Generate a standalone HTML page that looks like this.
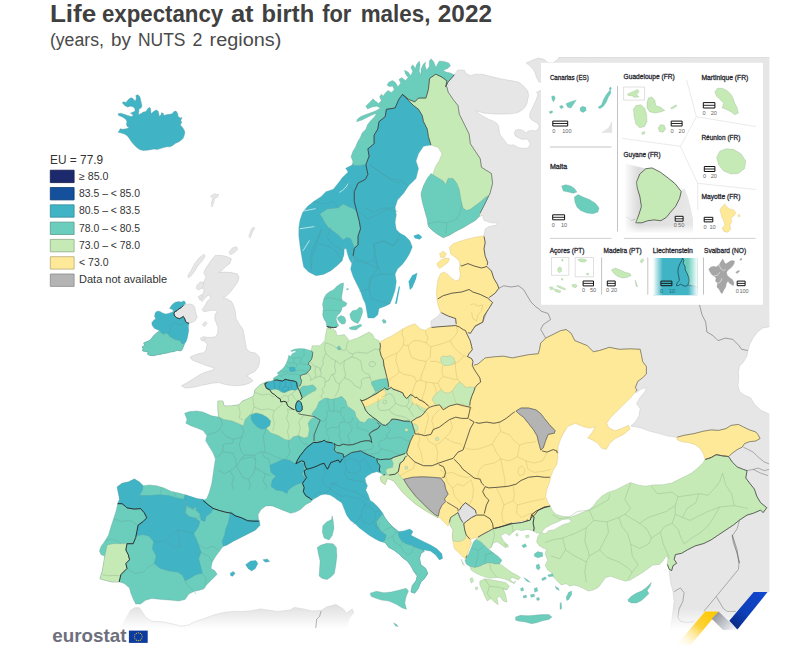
<!DOCTYPE html>
<html><head><meta charset="utf-8"><title>Life expectancy at birth for males, 2022</title>
<style>
html,body{margin:0;padding:0;background:#fff;}
body{width:810px;height:652px;overflow:hidden;position:relative;font-family:"Liberation Sans",sans-serif;color:#404040;}
#map{position:absolute;left:0;top:0;}
.t1{position:absolute;left:47px;top:-2px;font-size:24.5px;font-weight:bold;letter-spacing:-0.85px;white-space:nowrap;color:#3f3f3f;}
.t2{position:absolute;left:47px;top:27px;font-size:20px;letter-spacing:-0.55px;white-space:nowrap;color:#4a4a4a;}
.lg{position:absolute;left:50px;font-size:11.5px;letter-spacing:-0.3px;white-space:nowrap;color:#333;}
.lg i{position:absolute;left:0;top:0;width:23px;height:11.5px;border:0.8px solid #8a8a8a;display:block;}
.lg span{position:absolute;left:29px;top:-0.5px;}
</style></head><body>
<svg id="map" width="810" height="652" viewBox="0 0 810 652" stroke-linejoin="round">
<defs>
<linearGradient id="gna" x1="0" y1="604" x2="0" y2="629" gradientUnits="userSpaceOnUse"><stop offset="0" stop-color="#dedede"/><stop offset="1" stop-color="#ffffff"/></linearGradient>
<linearGradient id="gbot" x1="0" y1="608" x2="0" y2="630" gradientUnits="userSpaceOnUse"><stop offset="0" stop-color="#ffffff" stop-opacity="0"/><stop offset="1" stop-color="#ffffff" stop-opacity="1"/></linearGradient>
<linearGradient id="ggy" x1="0" y1="0" x2="1" y2="0"><stop offset="0" stop-color="#d8d8d8"/><stop offset="1" stop-color="#e8e8e8"/></linearGradient>
<linearGradient id="ggyl" x1="0" y1="0" x2="1" y2="0"><stop offset="0" stop-color="#fff" stop-opacity="1"/><stop offset="1" stop-color="#fff" stop-opacity="0"/></linearGradient>
<linearGradient id="ggyb" x1="0" y1="0" x2="0" y2="1"><stop offset="0" stop-color="#fff" stop-opacity="0"/><stop offset="1" stop-color="#fff" stop-opacity="1"/></linearGradient>
<linearGradient id="gll" x1="0" y1="0" x2="1" y2="0"><stop offset="0" stop-color="#fff" stop-opacity="1"/><stop offset="1" stop-color="#fff" stop-opacity="0"/></linearGradient>
<linearGradient id="glr" x1="0" y1="0" x2="1" y2="0"><stop offset="0" stop-color="#fff" stop-opacity="0"/><stop offset="1" stop-color="#fff" stop-opacity="1"/></linearGradient>
<linearGradient id="rby" x1="712" y1="611" x2="684" y2="645" gradientUnits="userSpaceOnUse"><stop offset="0" stop-color="#fcc900"/><stop offset="0.45" stop-color="#fdd23a"/><stop offset="1" stop-color="#fff6d0" stop-opacity="0.2"/></linearGradient>
<linearGradient id="rbb" x1="760" y1="592" x2="733" y2="626" gradientUnits="userSpaceOnUse"><stop offset="0" stop-color="#1246cc"/><stop offset="0.6" stop-color="#0d3fb8"/><stop offset="1" stop-color="#0a2a85"/></linearGradient>
<linearGradient id="rbg" x1="714" y1="614" x2="732" y2="631" gradientUnits="userSpaceOnUse"><stop offset="0" stop-color="#8f9299"/><stop offset="1" stop-color="#eef0f4"/></linearGradient>
<clipPath id="frame"><rect x="0" y="57" width="769.3" height="600"/></clipPath>
</defs>
<g clip-path="url(#frame)">
<polygon points="228.0,425.0 300.0,395.0 318.0,372.0 330.0,345.0 376.0,345.0 384.0,362.0 460.0,342.0 472.0,370.0 470.0,440.0 520.0,440.0 540.0,470.0 545.0,500.0 520.0,515.0 492.0,522.0 472.0,500.0 445.0,470.0 418.0,455.0 396.0,455.0 380.0,443.0 332.0,445.0 312.0,468.0 303.0,488.0 262.0,494.0 228.0,478.0" fill="#6bcdbc"/>
<polygon points="384.0,362.0 460.0,342.0 472.0,370.0 470.0,440.0 520.0,440.0 540.0,470.0 545.0,500.0 520.0,515.0 492.0,522.0 472.0,500.0 445.0,470.0 418.0,455.0 410.0,440.0 420.0,410.0 400.0,395.0 385.0,385.0" fill="#fee998"/>
<polygon points="520.0,440.0 560.0,400.0 566.0,430.0 556.0,445.0 548.0,470.0 540.0,470.0" fill="#fee998"/>
<polygon points="454.5,75.0 457.7,70.1 464.2,70.1 465.8,73.3 470.6,75.8 474.6,74.2 481.9,74.2 491.5,76.6 501.2,79.0 510.9,80.6 518.9,82.2 523.7,86.2 527.8,91.1 528.6,95.9 527.8,99.0 527.3,102.5 525.8,106.0 523.3,109.0 519.9,111.5 515.9,113.1 510.9,113.7 504.9,113.9 498.9,114.1 492.9,113.9 487.9,113.4 483.0,112.9 479.0,111.5 476.0,111.0 477.5,112.4 481.0,114.9 485.0,117.4 488.9,119.4 492.9,120.9 496.4,122.9 498.4,125.4 498.9,128.9 499.4,132.9 500.9,135.9 503.4,138.9 505.4,141.9 507.4,144.4 510.9,145.3 513.9,144.9 515.9,146.3 518.9,147.8 522.8,148.3 526.8,148.3 528.8,146.8 530.3,143.9 528.8,140.9 526.8,138.9 523.8,139.4 520.8,138.9 517.9,137.4 515.4,135.9 514.4,133.4 515.4,130.4 517.9,129.4 521.8,129.9 524.3,131.4 525.8,132.9 528.8,130.9 532.3,130.4 535.8,130.9 537.8,129.4 539.3,126.4 538.3,123.9 535.3,121.9 531.8,119.9 529.8,117.4 529.8,113.9 531.3,110.0 533.3,106.0 535.3,102.0 536.8,98.0 537.8,95.0 537.7,93.5 536.6,92.2 541.0,90.3 546.3,90.3 546.3,82.2 540.6,82.2 538.6,81.4 536.6,77.4 535.0,72.5 532.6,68.5 529.4,65.3 526.2,62.9 531.8,60.5 538.2,58.1 543.9,59.3 547.9,62.6 552.7,62.9 557.6,59.7 559.2,57.1 770.0,57.0 770.2,326.6 762.9,327.9 758.0,331.5 753.1,337.7 749.4,345.0 748.2,349.9 746.9,356.1 743.3,362.2 739.6,365.9 738.3,372.0 738.8,378.2 737.9,385.5 739.6,391.7 744.5,395.3 750.6,397.8 754.3,403.9 760.4,410.1 770.2,414.5 770.0,640.0 670.5,638.5 670.5,628.6 671.7,621.2 673.0,611.4 674.2,601.5 673.0,591.6 670.5,581.7 669.3,570.6 669.3,557.0 684.1,549.6 708.8,444.7 676.7,437.3 668.0,436.0 659.4,433.6 649.5,431.1 639.6,427.4 631.0,426.2 631.6,425.3 635.3,422.1 639.0,415.9 640.2,408.5 636.5,403.6 640.2,397.4 645.2,391.2 646.4,387.5 641.5,388.8 636.5,392.5 467.9,365.3 465.4,359.1 461.7,355.4 466.7,350.5 465.4,343.1 461.7,336.9 460.5,330.7 484.0,235.2 485.2,229.0 488.9,226.5 496.3,225.3 497.5,222.8 491.4,222.8 484.0,220.4 482.7,215.4 479.0,216.7 446.9,87.0" fill="#e6e6e6" stroke="#c8c8c8" stroke-width="0.5"/>
<polygon points="119.6,628.6 129.5,611.4 134.4,607.7 139.4,607.7 141.9,611.4 145.6,617.5 151.7,621.2 161.6,621.7 171.5,623.7 181.4,626.2 188.8,624.9 196.2,621.2 203.6,618.8 213.5,615.1 223.3,612.6 233.2,611.4 243.1,611.4 250.5,610.9 260.4,608.9 267.8,610.1 277.7,611.4 290.0,610.1 294.4,607.4 303.3,608.9 312.2,611.0 321.1,610.4 327.0,606.8 335.9,604.4 343.3,608.9 346.3,613.3 352.2,608.9 353.7,613.3 349.3,619.3 346.3,631.1 119.0,632.0" fill="url(#gna)"/>
<polyline points="129.5,611.4 134.4,607.7 139.4,607.7 141.9,611.4 145.6,617.5 151.7,621.2 161.6,621.7 171.5,623.7 181.4,626.2 188.8,624.9 196.2,621.2 203.6,618.8 213.5,615.1 223.3,612.6 233.2,611.4 243.1,611.4 250.5,610.9 260.4,608.9 267.8,610.1 277.7,611.4 290.0,610.1 294.4,607.4 303.3,608.9 312.2,611.0 321.1,610.4 327.0,606.8 335.9,604.4 343.3,608.9 346.3,613.3 352.2,608.9 353.7,613.3" fill="none" stroke="#d0d0d0" stroke-width="0.5"/>
<polyline points="498.8,288.3 503.7,285.8 511.1,287.0 518.5,285.8 523.5,289.5 527.2,295.7 530.9,301.9 535.8,306.8 539.5,309.3 540.7,311.0 548.1,313.5 550.6,319.6 543.2,324.6 540.7,329.5 545.7,338.1" fill="none" stroke="#6a6a6a" stroke-width="0.6"/>
<polyline points="699.5,304.8 702.0,314.7 705.7,322.1 706.9,332.0 713.1,335.7 718.0,340.6 725.4,338.1 732.8,339.4 739.0,345.6 741.5,349.3 747.7,350.5" fill="none" stroke="#6a6a6a" stroke-width="0.6"/>
<polyline points="743.3,447.2 748.3,449.6 753.2,452.1 758.1,457.0 764.3,462.0 769.3,464.0" fill="none" stroke="#6a6a6a" stroke-width="0.5"/>
<polyline points="747.0,470.6 753.2,469.4 758.1,468.1 764.3,470.6 769.3,469.4" fill="none" stroke="#6a6a6a" stroke-width="0.5"/>
<polyline points="753.2,469.4 760.6,473.1 768.0,475.6" fill="none" stroke="#6a6a6a" stroke-width="0.5"/>
<polyline points="739.6,520.0 737.2,528.6 732.2,536.0 733.5,543.5 737.2,553.3 739.6,563.2 732.2,534.8 737.2,549.6 738.9,564.4 738.4,569.4 716.2,596.5 703.8,611.4" fill="none" stroke="#6a6a6a" stroke-width="0.5"/>
<polyline points="716.2,596.5 723.6,608.9 727.3,611.4 735.9,611.4" fill="none" stroke="#6a6a6a" stroke-width="0.5"/>
<polyline points="674.2,591.6 680.4,587.9 684.1,592.8 682.8,601.5 679.1,608.9 677.9,617.5 680.4,621.2 686.5,622.5 694.0,621.7" fill="none" stroke="#6a6a6a" stroke-width="0.5"/>
<polyline points="321.1,611.0 319.6,616.3 316.7,619.3 315.8,628.1" fill="none" stroke="#6a6a6a" stroke-width="0.5"/>
<polyline points="466.2,330.7 474.1,327.0 482.7,322.1 485.2,315.9 487.7,308.5" fill="none" stroke="#6a6a6a" stroke-width="0.5"/>
<polygon points="210.7,261.1 215.3,255.4 221.0,255.4 226.8,256.5 231.4,258.8 229.8,263.4 225.1,266.9 222.2,270.3 218.7,272.6 224.5,272.1 231.4,272.6 237.1,273.8 239.0,277.2 237.1,283.0 233.7,287.6 230.2,292.2 226.8,295.6 223.3,297.9 227.4,299.1 231.4,301.4 233.7,306.0 235.3,311.7 236.0,318.6 239.4,324.4 242.9,329.0 244.0,334.7 245.2,341.6 246.3,348.5 249.8,352.0 255.5,353.1 259.0,356.6 259.7,361.2 258.3,366.9 255.1,371.1 250.9,373.4 246.8,376.1 250.9,378.4 253.2,380.7 249.8,383.0 244.0,384.9 237.1,385.8 230.2,385.3 224.5,384.2 218.7,382.6 213.0,383.0 207.2,384.2 201.5,385.3 196.9,386.5 191.1,387.6 185.4,388.1 181.4,385.8 186.5,383.0 192.3,379.6 196.9,376.6 201.5,373.8 207.2,371.5 211.8,370.4 214.6,368.1 209.5,366.5 203.8,364.6 198.0,362.3 192.3,360.0 190.0,357.3 194.6,355.0 199.2,353.6 203.8,352.7 206.1,349.7 207.2,343.9 204.4,341.2 200.8,339.3 203.8,337.0 209.5,337.5 215.3,337.0 217.6,333.6 218.2,327.8 216.4,323.2 214.6,318.6 215.3,314.0 217.6,311.3 214.1,309.9 209.5,310.6 203.8,311.7 202.1,309.4 204.9,306.0 207.2,301.4 210.7,297.9 209.5,294.5 206.1,296.8 202.1,301.4 199.8,299.1 202.6,294.5 204.4,289.9 201.5,287.6 200.3,284.1 203.8,281.8 206.1,277.2 203.8,272.6 206.1,268.0 208.4,264.6" fill="#e6e6e6" stroke="#c4c4c4" stroke-width="0.5"/>
<polygon points="187.7,276.1 191.1,270.3 194.6,263.4 199.2,257.7 203.8,254.2 205.4,256.0 202.1,261.1 198.0,265.7 194.6,271.5 191.1,276.1 188.3,277.7" fill="#e6e6e6" stroke="#c4c4c4" stroke-width="0.4"/>
<polygon points="196.9,285.3 200.3,281.8 203.8,283.0 202.6,287.6 199.2,289.9 196.2,288.7" fill="#e6e6e6" stroke="#c4c4c4" stroke-width="0.4"/>
<polygon points="198.0,296.8 201.5,294.5 202.6,297.4 199.8,299.8" fill="#e6e6e6" stroke="#c4c4c4" stroke-width="0.4"/>
<polygon points="229.1,251.9 232.5,247.8 236.7,246.8 237.6,249.6 233.7,253.1 230.2,254.7" fill="#e6e6e6" stroke="#c4c4c4" stroke-width="0.4"/>
<polygon points="202.1,324.4 205.4,321.6 207.2,323.2 204.4,326.7" fill="#e6e6e6" stroke="#c4c4c4" stroke-width="0.4"/>
<polygon points="200.3,338.2 203.8,336.6 205.4,338.9 202.1,341.2" fill="#e6e6e6" stroke="#c4c4c4" stroke-width="0.4"/>
<polygon points="248.9,236.2 251.4,228.8 253.8,227.0 254.8,228.3 252.3,232.5 250.1,238.1" fill="#e6e6e6" stroke="#c4c4c4" stroke-width="0.4"/>
<polygon points="210.4,196.2 214.3,193.7 218.8,194.7 217.3,197.2 214.8,198.6 213.6,202.8 211.9,207.0 211.4,202.8 212.8,198.6" fill="#e6e6e6" stroke="#c4c4c4" stroke-width="0.4"/>
<polygon points="183.3,305.5 186.1,304.4 189.6,304.0 193.0,304.9 194.8,307.2 195.3,311.3 196.5,314.7 197.1,317.6 195.3,320.5 192.5,322.2 189.0,323.3 187.3,322.8 185.6,321.6 184.7,318.7 183.3,316.4 181.6,317.6 179.3,318.7 176.4,317.6 174.7,315.9 173.9,313.6 174.7,311.8 177.0,310.7 178.7,309.0 181.0,307.8" fill="#e6e6e6" stroke="#c4c4c4" stroke-width="0.5"/>
<polygon points="430.9,321.0 438.3,316.0 440.7,312.3 448.1,316.0 455.6,318.5 458.0,328.4 448.1,328.9 438.3,329.4 430.9,327.2" fill="#e6e6e6" stroke="#c4c4c4" stroke-width="0.4"/>
<polygon points="118.0,113.8 120.7,113.2 124.0,114.3 127.7,115.4 130.9,116.4 133.1,116.1 132.5,114.3 130.4,113.2 133.1,112.1 135.2,111.1 134.7,108.4 133.1,106.8 130.4,106.2 127.7,107.1 125.0,105.7 122.3,103.0 123.4,101.7 126.1,102.5 127.7,100.3 129.9,98.2 132.0,97.7 134.1,99.8 135.2,101.4 136.3,98.2 135.8,95.5 137.9,94.7 139.8,96.6 140.6,99.8 141.3,103.0 142.0,105.7 141.1,107.9 139.0,108.9 138.8,112.1 138.4,114.8 140.6,113.8 143.3,112.1 146.0,111.6 147.6,108.9 149.2,107.3 150.6,108.4 150.8,111.6 151.3,113.8 153.5,111.6 156.1,110.0 158.1,111.1 158.8,113.8 159.4,116.4 161.0,114.8 161.5,112.7 163.1,113.2 164.2,115.4 166.9,114.6 169.6,114.3 172.2,113.8 173.9,111.6 176.0,111.1 177.6,113.2 178.1,116.4 180.3,118.0 182.1,117.5 180.8,120.2 181.7,122.3 180.3,125.0 182.4,127.2 184.1,129.9 184.9,132.5 184.1,135.8 183.0,138.4 180.8,140.6 178.1,142.2 175.5,143.3 172.8,145.4 170.1,146.8 166.9,146.8 163.7,147.6 160.4,148.6 157.2,149.4 154.0,149.0 150.8,149.7 147.0,150.2 143.3,150.5 140.0,149.7 137.4,148.1 135.2,146.0 133.1,143.8 130.9,141.1 129.3,138.4 127.2,135.8 124.5,134.1 121.3,133.1 118.0,132.2 119.4,130.4 120.2,128.8 122.9,129.3 126.1,128.8 129.3,127.7 127.2,126.6 126.3,124.5 127.0,121.8 126.1,119.7 124.0,118.0 121.3,116.4 118.6,115.4" fill="#40b4c4" stroke="#5a9aa5" stroke-width="0.4"/>
<polygon points="454.2,74.9 450.5,73.0 445.9,72.1 443.1,70.3 447.7,68.4 450.5,65.7 448.7,62.9 444.1,61.4 439.4,61.0 437.6,63.8 435.8,67.5 433.9,62.0 431.2,58.8 429.3,61.0 429.3,66.6 426.6,70.3 425.1,65.7 425.6,62.0 422.9,64.7 421.0,69.3 421.0,74.9 419.2,71.2 420.1,64.7 419.2,61.0 416.4,64.7 415.5,68.4 412.7,64.7 410.9,67.5 412.7,71.2 410.9,75.8 408.1,72.1 404.5,70.3 405.4,73.9 408.1,77.6 405.4,80.4 401.7,77.6 398.9,79.5 400.8,83.1 398.0,86.8 395.2,82.2 392.5,80.4 388.8,82.2 387.0,85.0 389.7,86.8 392.5,85.9 394.3,89.6 391.6,92.4 387.9,90.5 385.1,93.3 383.3,96.0 381.4,94.2 379.6,97.0 381.4,100.6 378.7,103.4 375.9,101.6 373.1,98.8 369.5,102.5 365.8,106.2 367.6,108.9 372.2,107.1 376.8,106.2 380.5,108.0 375.9,110.8 371.3,112.6 365.8,114.5 361.2,116.3 357.5,119.1 356.6,121.8 362.1,120.0 367.6,117.2 373.1,114.5 376.8,113.5 374.1,117.2 370.4,120.9 367.6,124.6 365.8,129.2 362.1,132.9 360.3,137.5 357.5,142.1 355.7,146.7 352.9,151.3 351.0,156.8 352.9,161.4 352.0,165.1 358.0,165.6 365.4,164.8 369.1,156.2 367.9,148.8 374.1,143.8 374.1,135.2 377.8,129.0 379.0,121.6 385.2,116.7 386.4,109.3 395.1,108.0 398.8,99.4 402.5,94.4 408.6,99.4 414.8,101.9 418.5,98.1 425.9,98.1 428.4,89.5 429.6,78.4 435.8,74.2 442.0,77.2 446.9,80.9 445.7,87.0 448.1,82.1" fill="#6bcdbc" stroke="#6a9a95" stroke-width="0.3"/>
<polygon points="352.0,165.1 345.7,168.3 348.1,172.0 342.0,178.1 338.3,183.1 333.3,189.3 325.9,191.7 321.0,196.7 313.6,201.6 307.4,206.5 302.5,212.7 300.0,220.1 298.8,227.5 298.8,236.2 300.0,246.0 301.2,253.5 302.5,260.9 303.7,267.0 308.6,272.0 316.0,275.7 323.5,274.4 330.9,270.7 337.0,265.8 342.0,260.9 344.0,254.7 344.2,249.0 346.2,248.5 347.4,253.5 349.4,259.6 351.9,263.3 353.1,255.9 354.3,248.5 358.0,244.8 358.0,236.2 360.5,228.8 359.3,221.4 356.8,211.5 354.3,201.6 354.3,191.7 358.0,183.1 365.4,179.4 367.9,174.4 365.9,164.6 365.4,164.8 358.0,165.6" fill="#40b4c4" stroke="#5a9aa5" stroke-width="0.3"/>
<polygon points="351.9,263.3 350.6,269.1 353.1,276.5 356.8,284.0 360.5,291.4 363.0,298.8 365.4,303.7 366.7,311.1 367.9,318.0 374.1,318.0 377.8,314.8 379.0,308.6 385.2,306.2 390.1,303.7 392.6,297.5 395.1,290.1 396.3,281.5 395.1,274.1 397.5,269.1 402.5,264.2 406.2,259.3 409.9,253.1 412.3,246.9 409.9,240.7 404.9,235.8 400.0,233.3 396.3,229.6 395.1,222.2 396.3,214.8 395.1,207.4 397.5,200.0 403.7,193.2 408.6,185.8 416.0,178.4 418.5,168.5 416.0,161.1 418.5,153.7 423.5,146.3 430.9,145.1 428.4,136.4 427.2,129.0 423.5,121.6 422.2,115.4 418.5,109.3 413.6,105.6 408.6,100.6 402.5,94.4 402.5,94.4 398.8,99.4 395.1,108.0 386.4,109.3 385.2,116.7 379.0,121.6 377.8,129.0 374.1,135.2 374.1,143.8 367.9,148.8 369.1,156.2 365.9,164.6 367.9,174.4 365.4,179.4 358.0,183.1 354.3,191.7 354.3,201.6 356.8,211.5 359.3,221.4 360.5,228.8 358.0,236.2 358.0,244.8 354.3,248.5 353.1,255.9" fill="#40b4c4" stroke="#5a9aa5" stroke-width="0.3"/>
<polygon points="430.9,145.1 438.3,147.5 442.0,153.7 439.5,159.9 435.8,166.0 432.1,175.9 428.4,177.2 423.5,185.8 421.0,195.7 423.5,203.1 424.7,210.5 427.2,219.1 428.4,226.5 432.1,230.2 437.0,234.0 443.2,237.7 449.4,235.2 455.6,231.5 463.0,227.8 469.1,224.1 475.3,220.4 479.0,216.7 480.2,213.0 484.0,205.6 487.7,198.1 490.1,193.2 492.6,183.3 491.4,173.5 481.5,167.3 480.2,158.6 475.3,151.2 470.4,143.8 469.1,134.0 463.0,121.6 459.3,114.2 458.0,105.6 453.1,99.4 448.1,92.0 446.9,87.0 445.7,87.0 446.9,80.9 442.0,77.2 435.8,74.2 429.6,78.4 428.4,89.5 425.9,98.1 418.5,98.1 414.8,101.9 408.6,99.4 402.5,94.4 402.5,94.4 408.6,100.6 413.6,105.6 418.5,109.3 422.2,115.4 423.5,121.6 427.2,129.0 428.4,136.4" fill="#c6eab5" stroke="#8fae88" stroke-width="0.3"/>
<polygon points="169.5,308.4 171.8,304.9 174.7,302.4 178.1,301.5 181.6,302.1 183.3,300.9 185.0,301.5 185.6,303.8 183.3,305.5 181.0,307.8 178.7,309.0 177.0,310.7 174.7,311.8 173.9,313.6 174.7,315.9 176.4,317.6 179.3,318.7 181.6,317.6 183.3,316.4 184.7,318.7 185.6,321.6 187.3,322.8 189.0,323.3 188.4,326.8 188.8,330.2 188.1,334.3 187.3,338.3 186.1,341.7 184.4,344.0 183.3,346.9 182.1,349.8 180.4,350.9 177.5,350.3 174.1,351.5 170.6,352.1 167.2,353.0 163.7,353.4 160.3,354.4 156.8,354.9 153.4,355.7 149.9,355.5 147.4,354.1 148.2,352.1 145.3,351.5 142.5,350.9 143.0,348.6 142.1,346.9 144.8,345.2 143.6,343.1 146.5,341.7 149.4,340.6 151.7,338.3 153.4,336.0 155.7,333.7 158.0,332.0 159.7,330.8 157.4,329.7 154.5,328.5 152.2,325.6 151.7,322.8 153.4,320.5 155.7,318.7 154.5,316.4 155.1,313.0 156.8,311.3 159.7,311.3 162.6,313.0 165.5,314.1 168.3,313.6 171.2,312.4 173.5,311.3 172.4,309.5" fill="#40b4c4" stroke="#5a9aa5" stroke-width="0.3"/>
<polygon points="319.8,214.0 327.2,209.0 338.3,207.8 343.2,204.1 348.1,206.5 354.3,209.0 356.8,212.7 359.3,221.4 360.5,228.8 358.0,236.2 358.0,244.8 354.3,247.3 350.6,238.6 346.9,237.4 343.2,239.9 338.3,234.9 333.3,231.2 328.4,227.5 324.7,222.6 322.2,217.7" fill="#6bcdbc" stroke="#6a9a95" stroke-width="0.3"/>
<polygon points="395.1,303.7 398.8,286.4 400.0,286.4 396.8,303.7" fill="#40b4c4"/>
<polygon points="408.6,281.5 412.3,275.3 417.3,272.8 416.0,279.0 412.3,287.7 409.9,290.1" fill="#40b4c4"/>
<polygon points="430.9,173.5 437.0,177.2 443.2,180.9 445.7,184.6 448.1,178.4 453.1,178.4 456.8,183.3 459.3,189.5 460.5,196.9 461.7,203.1 463.0,208.0 466.7,210.5 470.4,209.3 475.3,205.6 480.2,201.9 485.2,197.4 488.4,195.7 487.7,198.1 484.0,205.6 480.2,213.0 479.0,216.7 475.3,220.4 469.1,224.1 463.0,227.8 455.6,231.5 449.4,235.2 443.2,237.7 437.0,234.0 432.1,230.2 428.4,226.5 427.2,219.1 424.7,210.5 422.2,201.9 421.0,193.2 423.5,185.8 427.2,178.4" fill="#6bcdbc" stroke="#6a9a95" stroke-width="0.3"/>
<polygon points="413.6,235.8 418.5,234.1 422.2,237.0 419.8,239.5 414.8,238.3" fill="#40b4c4"/>
<polygon points="159.7,330.8 161.4,333.1 163.7,334.3 166.0,333.1 168.3,334.3 169.5,336.6 171.8,337.7 174.7,339.4 177.5,340.0 180.4,341.1 181.6,343.4 183.3,344.0 184.4,344.0 183.3,346.9 182.1,349.8 180.4,350.9 177.5,350.3 174.1,351.5 170.6,352.1 167.2,353.0 163.7,353.4 160.3,354.4 156.8,354.9 153.4,355.7 149.9,355.5 147.4,354.1 148.2,352.1 145.3,351.5 142.5,350.9 143.0,348.6 142.1,346.9 144.8,345.2 143.6,343.1 146.5,341.7 149.4,340.6 151.7,338.3 153.4,336.0 155.7,333.7 158.0,332.0" fill="#6bcdbc" stroke="#6a9a95" stroke-width="0.3"/>
<polyline points="339.3,192.4 342.4,190.5 346.1,186.9 348.1,183.5" fill="none" stroke="#e8f6f8" stroke-width="0.7"/>
<polyline points="299.6,228.8 306.6,227.7 314.3,226.6" fill="none" stroke="#e8f6f8" stroke-width="0.7"/>
<polyline points="302.9,250.9 306.6,245.0 309.5,240.4" fill="none" stroke="#e8f6f8" stroke-width="0.7"/>
<polyline points="304.3,210.9 310.2,209.7 315.7,208.6" fill="none" stroke="#e8f6f8" stroke-width="0.7"/>
<polyline points="168.3,334.3 169.5,331.4 170.6,327.9 171.8,324.5 174.1,322.8 176.4,323.3 179.3,325.1 182.1,324.5 184.7,323.3 187.3,322.8" fill="none" stroke="#4f98a4" stroke-width="0.4"/>
<polyline points="369.1,164.8 379.0,171.0 388.9,178.4 398.8,179.6 408.6,185.8" fill="none" stroke="#4f98a4" stroke-width="0.4"/>
<polyline points="370.4,164.6 380.2,172.0 390.1,179.4 400.0,183.1" fill="none" stroke="#4f98a4" stroke-width="0.4"/>
<polyline points="358.0,211.5 367.9,218.9 377.8,214.0 387.7,209.0 397.5,211.5" fill="none" stroke="#4f98a4" stroke-width="0.4"/>
<polyline points="374.1,243.6 382.7,241.1 392.6,246.0 400.0,238.6" fill="none" stroke="#4f98a4" stroke-width="0.4"/>
<polyline points="374.1,243.6 375.3,253.5 377.8,268.3 370.4,278.1 367.9,288.0" fill="none" stroke="#4f98a4" stroke-width="0.4"/>
<polyline points="355.6,260.9 363.0,260.9 370.4,264.6 377.8,268.3" fill="none" stroke="#4f98a4" stroke-width="0.4"/>
<polyline points="321.0,228.8 318.5,236.2 316.0,246.0 312.3,255.9 311.1,268.3" fill="none" stroke="#4f98a4" stroke-width="0.4"/>
<polyline points="318.5,243.6 328.4,246.0 335.8,251.0 342.0,260.9" fill="none" stroke="#4f98a4" stroke-width="0.4"/>
<polyline points="313.6,201.6 323.5,204.1 333.3,201.6 338.3,207.8" fill="none" stroke="#4f98a4" stroke-width="0.4"/>
<polyline points="342.0,178.1 348.1,184.3 354.3,191.7" fill="none" stroke="#4f98a4" stroke-width="0.4"/>
<polyline points="364.2,207.4 374.1,212.3 381.5,208.6 395.1,207.4" fill="none" stroke="#4f98a4" stroke-width="0.4"/>
<polyline points="374.1,244.4 384.0,240.7 393.8,245.7 400.0,233.3" fill="none" stroke="#4f98a4" stroke-width="0.4"/>
<polyline points="374.1,244.4 374.1,259.3 364.2,264.2 353.1,255.6" fill="none" stroke="#4f98a4" stroke-width="0.4"/>
<polyline points="374.1,259.3 381.5,274.1 393.8,274.1" fill="none" stroke="#4f98a4" stroke-width="0.4"/>
<polyline points="371.6,276.5 381.5,274.1" fill="none" stroke="#4f98a4" stroke-width="0.4"/>
<polyline points="371.6,276.5 369.1,288.9 371.6,298.8 379.0,301.2 390.1,303.7" fill="none" stroke="#4f98a4" stroke-width="0.4"/>
<polyline points="359.3,291.4 369.1,288.9" fill="none" stroke="#4f98a4" stroke-width="0.4"/>
<polyline points="322.2,229.6 317.3,239.5 312.3,249.4 309.9,261.7 312.3,271.6" fill="none" stroke="#4f98a4" stroke-width="0.4"/>
<polyline points="330.9,227.2 327.2,237.0 332.1,244.4 340.7,249.4 344.0,250.6" fill="none" stroke="#4f98a4" stroke-width="0.4"/>
<polyline points="427.2,224.1 437.0,221.6 446.9,222.8 456.8,219.1 460.5,211.7 461.7,203.1" fill="none" stroke="#62a89b" stroke-width="0.4"/>
<polyline points="446.9,222.8 445.7,234.0" fill="none" stroke="#62a89b" stroke-width="0.4"/>
<polygon points="117.2,486.9 122.1,483.2 128.3,482.0 134.4,479.0 139.4,482.0 143.1,485.7 149.3,484.9 156.7,485.7 164.1,488.1 171.5,491.4 178.9,493.1 185.1,494.8 191.2,496.8 197.4,498.8 202.3,499.3 204.1,500.0 208.5,504.7 213.5,507.9 219.6,510.4 225.8,512.1 230.7,511.6 235.7,515.3 241.9,517.8 248.0,520.2 254.2,520.2 259.1,520.2 259.9,525.2 255.4,530.1 248.0,533.8 240.6,537.5 233.2,541.2 227.0,544.9 223.3,546.2 219.6,551.1 215.9,556.0 212.2,562.2 211.0,568.4 214.7,570.6 217.2,574.3 214.7,576.8 211.0,580.5 206.0,585.4 203.6,589.1 198.6,590.4 193.7,591.6 188.8,594.1 185.1,599.5 178.9,601.0 171.5,600.2 161.6,599.5 151.7,598.5 145.6,600.2 140.6,604.0 135.7,604.0 133.2,599.0 130.7,592.8 129.5,587.9 124.6,583.7 119.1,581.7 120.9,574.6 127.0,568.4 125.8,563.5 129.5,559.8 128.3,554.8 125.8,549.9 127.0,543.7 133.2,543.7 135.7,537.5 136.9,531.4 138.1,525.2 143.1,521.5 146.8,517.8 144.3,512.8 140.6,508.6 134.4,509.1 127.0,507.9 125.8,506.7 122.1,503.7 117.7,503.7 119.6,499.3 118.4,493.1" fill="#6bcdbc" stroke="#6a9a95" stroke-width="0.3"/>
<polygon points="264.8,382.5 259.9,384.9 254.9,389.9 253.7,396.0 248.8,398.5 242.6,401.0 238.9,404.7 231.5,405.9 224.1,405.9 222.8,401.0 217.9,401.0 217.9,409.6 218.6,417.0 211.7,415.8 203.1,412.1 196.9,410.9 189.5,411.6 184.6,413.3 187.0,419.5 185.8,423.2 190.7,425.7 196.9,428.1 203.1,430.6 206.8,435.6 205.6,440.5 209.3,446.7 213.0,452.8 215.4,459.0 214.2,466.4 213.0,475.1 211.7,483.7 209.3,492.3 206.8,498.5 203.1,500.5 208.0,504.7 213.0,508.4 219.1,510.4 225.3,512.1 231.5,513.3 235.2,515.8 241.4,517.8 247.5,520.7 253.7,521.2 258.6,521.2 258.1,514.6 261.1,509.6 266.0,505.9 272.2,505.9 278.4,508.4 284.6,510.9 290.7,513.3 295.7,512.1 300.6,509.6 305.6,504.7 310.5,502.2 313.0,499.8 311.7,494.8 308.0,492.3 304.3,488.6 303.1,482.5 305.6,477.5 301.9,475.1 304.3,468.9 303.1,464.0 308.0,462.7 308.0,454.1 310.5,449.1 317.9,441.7 322.8,433.1 325.3,424.4 326.5,417.0 317.9,412.1 310.5,407.2 305.6,404.7 298.1,402.2 294.4,397.3 289.5,394.8 284.6,389.9 278.4,387.4 273.5,383.7 268.5,381.2" fill="#6bcdbc" stroke="#6a9a95" stroke-width="0.3"/>
<polygon points="322.8,525.7 326.5,522.0 331.5,519.5 332.2,515.8 333.2,520.7 334.0,528.1 332.2,535.6 329.0,540.0 324.1,538.0 322.3,531.9" fill="#6bcdbc" stroke="#6a9a95" stroke-width="0.3"/>
<polygon points="117.7,503.7 115.9,511.6 113.5,519.0 111.0,526.4 108.5,535.1 104.8,541.2 101.1,546.2 99.4,551.1 101.1,554.8 104.8,556.0 103.6,563.5 102.3,570.9 100.4,577.0 99.9,578.8 104.8,580.2 112.2,582.0 119.1,582.0 120.9,574.6 127.0,568.4 125.8,563.5 129.5,559.8 128.3,554.8 125.8,549.9 127.0,543.7 133.2,543.7 135.7,537.5 136.9,531.4 138.1,525.2 143.1,521.5 146.8,517.8 144.3,512.8 140.6,508.6 134.4,509.1 127.0,507.9 125.8,506.7 122.1,503.7 117.7,503.7" fill="#6bcdbc" stroke="#6a9a95" stroke-width="0.3"/>
<polygon points="264.8,382.5 259.9,384.9 254.9,389.9 253.7,396.0 248.8,398.5 242.6,401.0 238.9,404.7 231.5,405.9 224.1,405.9 222.8,401.0 217.9,401.0 217.9,409.6 218.6,417.0 224.1,419.5 231.5,420.7 237.7,423.2 243.3,425.7 245.1,419.5 250.0,414.6 256.2,412.8 262.3,414.6 267.3,418.3 268.0,423.2 266.0,428.1 271.0,433.1 278.4,435.6 284.6,439.3 289.5,440.5 293.2,436.8 298.1,435.6 304.3,438.0 308.0,436.8 309.3,429.4 308.0,423.2 310.5,419.5 314.2,417.0 317.9,412.1 310.5,407.2 305.6,404.7 298.1,402.2 294.4,397.3 289.5,394.8 284.6,389.9 278.4,387.4 273.5,383.7 268.5,381.2" fill="#c6eab5" stroke="#8aa890" stroke-width="0.3"/>
<polygon points="117.2,486.9 122.1,483.2 128.3,482.0 134.4,479.0 139.4,482.0 143.1,485.7 142.3,490.6 139.4,495.6 142.3,501.7 140.6,508.6 134.4,509.1 127.0,507.9 125.8,506.7 122.1,503.7 117.7,503.7 119.6,499.3 118.4,493.1" fill="#40b4c4" stroke="#5a9aa5" stroke-width="0.3"/>
<polygon points="140.6,508.6 144.3,512.8 146.8,517.8 143.1,521.5 138.1,525.2 136.9,531.4 136.4,535.8 143.1,534.6 149.3,536.3 153.7,541.7 152.2,548.6 156.2,556.0 154.2,563.5 160.4,568.4 169.0,570.9 177.7,572.1 182.6,575.3 185.1,580.7 190.0,578.3 196.2,574.6 202.3,573.3 200.6,565.9 198.6,558.5 201.1,552.3 198.6,544.9 196.2,538.8 193.7,533.8 198.6,526.4 199.9,521.5 194.9,517.8 188.8,516.5 185.1,512.8 186.3,506.7 185.1,501.7 188.8,498.0 185.1,494.8 183.8,499.3 176.4,498.0 169.0,495.6 159.1,494.8 149.3,495.6 139.4,495.6 142.3,501.7" fill="#40b4c4" stroke="#5a9aa5" stroke-width="0.3"/>
<polygon points="230.7,511.6 235.7,515.3 241.9,517.8 248.0,520.2 254.2,520.2 259.1,520.2 259.9,525.2 255.4,530.1 248.0,533.8 240.6,537.5 233.2,541.2 227.0,544.9 223.3,546.2 222.1,541.2 224.6,535.1 225.8,528.9 228.3,522.7 229.5,516.5" fill="#40b4c4" stroke="#5a9aa5" stroke-width="0.3"/>
<polygon points="245.6,564.7 250.5,561.0 255.9,560.5 257.9,563.5 255.4,568.4 251.7,570.9 248.0,568.4" fill="#40b4c4" stroke="#5a9aa5" stroke-width="0.3"/>
<polygon points="262.8,559.8 267.3,559.0 269.8,561.5 265.3,562.2" fill="#40b4c4" stroke="#5a9aa5" stroke-width="0.3"/>
<polygon points="230.2,573.3 233.2,571.4 235.2,573.3 232.7,576.3 230.7,575.8" fill="#40b4c4" stroke="#5a9aa5" stroke-width="0.3"/>
<polygon points="107.3,544.9 113.5,543.7 120.9,543.7 127.0,543.7 125.8,549.9 128.3,554.8 129.5,559.8 125.8,563.5 127.0,568.4 120.9,574.6 119.1,582.0 112.2,582.0 104.8,580.2 99.9,578.8 102.3,570.9 103.6,563.5 104.8,556.0 106.0,551.1" fill="#c6eab5" stroke="#8aa890" stroke-width="0.3"/>
<polygon points="251.3,415.4 255.9,413.5 261.5,414.4 267.0,417.2 270.7,420.9 269.8,425.6 266.1,428.3 261.5,429.3 256.9,426.5 253.1,422.8 251.3,419.1" fill="#40b4c4" stroke="#5a9aa5" stroke-width="0.3"/>
<polygon points="269.8,465.2 275.9,462.7 283.3,459.0 289.5,460.2 295.7,464.0 298.1,462.7 303.1,462.7 304.3,468.9 301.9,475.1 305.6,477.5 303.1,482.5 298.1,483.7 293.2,486.2 288.3,489.9 287.0,493.6 282.1,491.1 275.9,489.9 271.0,486.2 272.2,480.0 275.9,476.3 271.0,472.6" fill="#40b4c4" stroke="#5a9aa5" stroke-width="0.3"/>
<polygon points="185.1,494.8 191.2,496.8 197.4,498.8 202.3,499.3 199.9,503.0 196.2,506.7 192.5,509.1 188.8,506.7 186.3,505.4 185.8,500.5" fill="#40b4c4" stroke="#5a9aa5" stroke-width="0.3"/>
<polygon points="202.3,499.3 204.1,500.0 208.5,504.7 213.5,507.9 211.0,512.8 206.0,516.5 204.8,521.5 201.1,520.2 199.9,514.1 196.2,510.4 196.2,506.7 199.9,503.0" fill="#40b4c4" stroke="#5a9aa5" stroke-width="0.3"/>
<polygon points="185.8,509.1 188.8,507.2 192.5,509.1 196.2,510.4 199.9,514.1 198.6,517.8 193.7,517.8 188.8,516.0 185.8,512.8" fill="#6bcdbc" stroke="#6a9a95" stroke-width="0.3"/>
<polyline points="102.3,574.6 108.5,575.8 114.7,575.3 119.6,575.8" fill="none" stroke="#8aa890" stroke-width="0.4"/>
<polyline points="164.1,541.2 170.2,536.3 177.7,530.1 178.9,537.5 180.1,546.2 174.0,548.1 170.2,544.9 166.5,542.5" fill="none" stroke="#5a9aa5" stroke-width="0.4"/>
<polygon points="311.7,500.0 310.0,498.3 305.8,495.8 303.3,491.7 304.2,487.5 302.5,483.3 304.2,480.8 306.7,477.5 305.0,475.0 304.2,470.8 306.7,469.2 309.2,466.7 317.5,464.2 324.2,461.7 327.5,467.5 330.8,460.8 338.3,458.3 343.7,455.8 347.5,454.2 356.7,450.3 363.3,451.3 372.5,455.3 376.7,457.5 378.3,462.5 380.8,465.8 380.0,470.0 381.3,473.3 376.7,471.7 371.7,473.3 367.5,475.8 365.0,478.3 365.8,482.5 367.5,485.8 365.8,490.0 368.3,495.0 370.0,500.0 369.0,499.4 374.0,503.1 378.9,508.0 382.6,513.0 385.1,517.9 388.8,522.8 393.7,527.8 398.6,531.5 403.6,531.0 409.8,529.0 413.0,531.5 411.0,535.2 415.9,537.7 423.3,541.4 430.7,545.1 436.9,548.8 441.9,553.7 442.6,558.6 439.4,559.9 435.7,554.9 430.7,551.2 424.6,550.0 420.9,553.7 419.6,558.6 420.9,564.8 425.8,568.5 427.8,573.5 424.6,578.4 420.9,582.1 418.4,588.3 414.7,593.2 411.0,592.0 412.2,585.8 415.9,580.9 417.2,575.9 413.5,571.0 411.0,566.0 407.3,561.1 403.6,558.6 398.6,553.7 393.7,550.0 388.8,547.5 385.1,542.6 380.1,541.4 375.2,538.9 369.0,535.2 364.1,531.5 359.1,527.8 355.4,524.1 350.5,520.4 346.8,515.4 344.3,509.3 341.9,503.1 336.9,499.4 337.5,500.0 334.2,497.5 330.0,495.0 325.0,494.2 320.8,495.0 316.7,497.5" fill="#40b4c4" stroke="#5a9aa5" stroke-width="0.3"/>
<polygon points="317.2,547.5 320.9,545.1 327.0,543.3 333.2,543.8 336.4,547.5 336.9,556.2 335.7,566.0 334.4,573.5 330.7,577.2 327.0,579.6 322.1,578.4 319.1,575.9 319.6,568.5 320.1,561.1 318.4,553.7" fill="#6bcdbc" stroke="#6a9a95" stroke-width="0.3"/>
<polygon points="370.2,593.2 376.4,591.2 383.8,592.7 391.2,592.0 398.6,590.2 406.0,588.3 408.5,590.7 406.0,596.9 404.8,603.1 406.5,609.3 402.3,608.0 396.2,604.3 388.8,601.1 381.4,600.1 375.2,598.1 371.0,596.2" fill="#6bcdbc" stroke="#6a9a95" stroke-width="0.3"/>
<polyline points="219.8,417.2 222.6,423.7 219.8,429.3 216.1,432.0 207.8,434.8" fill="none" stroke="#5fa596" stroke-width="0.4"/>
<polyline points="221.7,431.1 226.3,436.7 233.7,439.4 232.8,443.1 223.5,444.1 222.6,451.5 219.8,455.2 217.0,457.0" fill="none" stroke="#5fa596" stroke-width="0.4"/>
<polyline points="241.1,425.6 243.9,431.1 242.0,436.7 233.7,439.4" fill="none" stroke="#5fa596" stroke-width="0.4"/>
<polyline points="242.0,436.7 239.3,444.1 241.1,451.5 244.8,455.2 254.1,455.2 261.5,451.5 265.2,452.4 264.3,444.1 263.3,436.7 266.1,428.3" fill="none" stroke="#5fa596" stroke-width="0.4"/>
<polyline points="222.6,451.5 232.8,453.3 235.6,458.9 236.5,466.3 230.0,470.9 224.4,473.7 218.0,470.0" fill="none" stroke="#5fa596" stroke-width="0.4"/>
<polyline points="236.5,466.3 241.1,458.9 244.8,455.2" fill="none" stroke="#5fa596" stroke-width="0.4"/>
<polyline points="241.1,458.9 252.2,457.0 255.9,460.7 255.0,468.1 253.1,473.7 248.5,479.3 243.0,477.4 236.5,466.3" fill="none" stroke="#5fa596" stroke-width="0.4"/>
<polyline points="254.1,455.2 255.9,460.7" fill="none" stroke="#5fa596" stroke-width="0.4"/>
<polyline points="261.5,451.5 264.3,457.0 268.9,458.9 269.8,464.4" fill="none" stroke="#5fa596" stroke-width="0.4"/>
<polyline points="255.0,468.1 259.6,470.0 265.2,473.7 270.7,475.6" fill="none" stroke="#5fa596" stroke-width="0.4"/>
<polyline points="265.2,452.4 270.7,454.3 276.3,457.0 280.9,458.9" fill="none" stroke="#5fa596" stroke-width="0.4"/>
<polyline points="289.3,439.4 288.3,445.9 290.2,451.5 287.4,457.0 285.6,459.8" fill="none" stroke="#5fa596" stroke-width="0.4"/>
<polyline points="298.5,434.8 300.4,440.4 304.1,444.1 307.8,444.1" fill="none" stroke="#5fa596" stroke-width="0.4"/>
<polyline points="248.5,479.3 250.4,484.8 248.5,490.0" fill="none" stroke="#5fa596" stroke-width="0.4"/>
<polyline points="230.0,470.9 233.7,477.4 231.9,484.8 233.7,490.0" fill="none" stroke="#5fa596" stroke-width="0.4"/>
<polyline points="265.2,473.7 263.3,481.1 267.0,486.7 265.2,490.0" fill="none" stroke="#5fa596" stroke-width="0.4"/>
<polyline points="272.6,431.1 274.4,423.7 272.6,416.3 274.4,410.7 280.0,406.1 282.8,403.3" fill="none" stroke="#8fb08a" stroke-width="0.4"/>
<polyline points="289.3,439.4 287.4,431.1 289.3,425.6 286.5,418.1 288.3,412.6 287.4,408.9" fill="none" stroke="#8fb08a" stroke-width="0.4"/>
<polyline points="287.4,408.9 291.1,409.8 294.8,408.0" fill="none" stroke="#8fb08a" stroke-width="0.4"/>
<polyline points="255.0,392.2 261.5,395.0 268.9,394.1 273.5,396.9 276.3,395.0" fill="none" stroke="#8fb08a" stroke-width="0.4"/>
<polyline points="251.3,414.4 254.1,407.0 253.1,400.6 253.1,397.8" fill="none" stroke="#8fb08a" stroke-width="0.4"/>
<polyline points="254.1,407.0 261.5,409.8 268.9,408.9 274.4,410.7" fill="none" stroke="#8fb08a" stroke-width="0.4"/>
<polyline points="238.3,405.2 240.2,412.6 239.3,418.1 243.0,420.0" fill="none" stroke="#8fb08a" stroke-width="0.4"/>
<polyline points="298.5,434.8 300.4,427.4 298.5,421.9 302.2,417.2 304.1,414.4" fill="none" stroke="#8fb08a" stroke-width="0.4"/>
<polyline points="154.2,563.5 148.0,567.2 143.1,572.1 134.4,573.3 127.0,568.4" fill="none" stroke="#62a89b" stroke-width="0.4"/>
<polyline points="185.1,580.7 187.5,585.7 191.2,588.1 196.2,594.3" fill="none" stroke="#62a89b" stroke-width="0.4"/>
<polyline points="202.3,573.3 206.0,578.3 204.8,588.1" fill="none" stroke="#62a89b" stroke-width="0.4"/>
<polyline points="198.6,544.9 206.0,548.6 213.5,546.2 219.6,551.1" fill="none" stroke="#62a89b" stroke-width="0.4"/>
<polyline points="201.1,552.3 208.5,556.0 212.2,562.2" fill="none" stroke="#62a89b" stroke-width="0.4"/>
<polyline points="161.6,486.9 160.4,494.8" fill="none" stroke="#62a89b" stroke-width="0.4"/>
<polyline points="174.0,491.9 176.4,498.0" fill="none" stroke="#62a89b" stroke-width="0.4"/>
<polyline points="113.5,519.0 122.1,521.5 129.5,520.2 138.1,525.2" fill="none" stroke="#62a89b" stroke-width="0.4"/>
<polyline points="104.8,541.2 111.0,538.8 117.2,541.2 120.9,543.7" fill="none" stroke="#62a89b" stroke-width="0.4"/>
<polyline points="153.7,541.7 164.1,541.2" fill="none" stroke="#4f98a4" stroke-width="0.4"/>
<polyline points="177.7,530.1 186.3,531.4 193.7,533.8" fill="none" stroke="#4f98a4" stroke-width="0.4"/>
<polygon points="382.6,513.7 385.1,517.9 388.8,522.8 393.7,527.8 398.6,531.5 398.6,535.9 401.6,540.9 406.0,543.8 411.0,545.3 415.9,547.5 420.9,549.3 424.6,551.2 420.9,553.7 419.6,558.6 420.9,564.8 425.8,568.5 427.8,573.5 424.6,578.4 420.9,582.1 418.4,588.3 414.7,593.2 411.0,592.0 412.2,585.8 415.9,580.9 417.2,575.9 413.5,571.0 411.0,566.0 407.3,561.1 403.6,558.6 398.6,553.7 393.7,550.0 388.8,547.5 385.1,542.6 382.6,541.9 385.1,540.1 386.3,535.2 381.4,531.5 377.7,526.5 376.4,521.6 379.4,517.9" fill="#6bcdbc" stroke="#6a9a95" stroke-width="0.3"/>
<polygon points="531.6,514.6 536.5,510.9 544.0,507.7 550.1,505.9 552.6,510.9 556.3,514.6 563.7,516.5 571.1,517.0 577.3,514.6 583.5,512.1 589.6,509.6 593.3,505.9 597.0,501.0 602.0,496.0 608.1,492.3 615.6,489.9 623.0,486.2 630.4,482.5 637.8,484.9 645.2,486.2 652.6,484.9 663.1,484.7 671.7,483.0 679.1,479.3 685.3,476.3 691.5,473.1 697.7,468.1 702.6,463.2 705.1,459.5 711.2,457.5 716.2,454.6 722.3,455.8 728.5,456.5 732.2,462.0 737.2,466.9 743.3,469.4 747.0,470.6 745.8,478.0 749.5,483.0 754.4,489.1 756.9,496.5 760.6,502.7 766.8,507.7 763.1,512.6 760.6,510.1 753.2,513.3 747.0,515.1 739.6,520.0 733.5,524.9 726.0,529.9 718.6,534.8 711.2,539.8 703.8,543.5 695.2,545.9 687.8,549.6 681.6,553.3 675.4,554.6 674.2,559.5 676.7,563.2 673.0,565.7 671.7,570.6 669.3,569.4 667.3,564.4 668.0,558.3 666.3,555.8 663.1,560.7 659.4,564.4 652.6,565.2 647.7,568.9 642.7,572.6 636.5,576.3 630.4,580.0 625.4,581.2 618.0,578.8 610.6,576.3 605.7,577.5 602.0,582.5 598.3,587.4 593.3,589.9 588.4,591.1 583.5,588.6 578.5,586.2 573.6,584.9 569.9,586.2 566.2,583.7 561.2,584.9 557.5,581.2 553.8,577.5 551.4,572.6 547.7,570.1 545.2,565.2 547.7,560.2 545.2,554.1 546.4,549.1 542.7,547.9 539.0,545.4 536.5,541.7 537.8,536.8 540.2,533.1 536.5,533.1 533.6,531.1 534.1,528.1 533.1,523.2 534.1,517.0" fill="#c6eab5" stroke="#8aa890" stroke-width="0.3"/>
<polygon points="323.9,298.5 326.0,294.4 329.4,291.7 333.5,289.7 336.8,286.3 340.9,283.6 343.6,282.9 343.2,287.7 342.3,293.1 341.6,297.2 342.3,300.6 345.0,301.9 347.0,303.3 345.7,306.0 342.3,307.3 341.3,310.7 339.6,313.5 336.8,316.2 336.2,319.6 337.5,323.6 338.9,325.7 336.8,327.0 333.5,327.7 329.4,327.0 326.7,326.4 326.0,322.3 323.9,318.9 322.6,314.8 323.3,309.4 322.6,303.9" fill="#6bcdbc" stroke="#6a9a95" stroke-width="0.3"/>
<polygon points="337.5,317.5 340.9,315.5 344.3,316.8 345.9,320.2 345.0,323.6 342.3,324.3 339.6,322.3 337.8,319.6" fill="#6bcdbc" stroke="#6a9a95" stroke-width="0.3"/>
<polygon points="349.8,314.1 352.5,310.7 356.5,310.1 359.3,307.3 362.0,308.0 362.7,312.1 361.3,316.2 359.9,320.2 357.9,323.6 354.5,322.3 351.8,320.2 350.4,317.5" fill="#6bcdbc" stroke="#6a9a95" stroke-width="0.3"/>
<polygon points="349.1,327.7 352.5,326.4 356.5,325.7 360.6,324.3 362.0,325.7 358.6,327.7 356.5,329.8 352.5,329.8 349.8,329.1" fill="#6bcdbc" stroke="#6a9a95" stroke-width="0.3"/>
<polygon points="382.1,320.2 383.7,319.2 386.1,320.9 385.7,323.0 383.4,323.2" fill="#6bcdbc" stroke="#6a9a95" stroke-width="0.3"/>
<polygon points="346.4,289.0 348.1,288.2 348.7,289.3 347.0,290.1" fill="#6bcdbc" stroke="#6a9a95" stroke-width="0.25"/>
<polygon points="464.9,560.2 468.6,554.1 471.1,547.9 473.6,541.7 476.0,539.3 481.0,541.7 484.7,545.4 488.4,549.1 493.3,552.8 498.3,556.5 502.0,560.2 499.5,564.0 494.6,564.0 489.6,562.7 484.7,564.0 479.8,566.4 474.8,567.7 469.9,566.4 466.2,564.0" fill="#6bcdbc" stroke="#6a9a95" stroke-width="0.3"/>
<polygon points="476.0,539.3 481.0,535.6 487.2,531.9 493.3,528.6 503.2,526.2 511.9,523.7 521.7,522.5 530.4,520.0 531.6,514.6 534.1,517.0 533.1,523.2 534.1,528.1 533.6,531.1 527.9,529.4 521.7,530.6 516.8,529.4 513.1,531.9 509.4,535.6 505.7,533.1 500.7,535.6 503.2,540.5 508.1,545.4 505.7,547.9 500.7,544.2 497.0,541.7 493.3,543.0 490.9,547.9 488.4,549.1 484.7,545.4 481.0,541.7" fill="#c6eab5" stroke="#8aa890" stroke-width="0.3"/>
<polygon points="469.9,566.4 474.8,567.7 479.8,566.4 484.7,564.0 489.6,562.7 494.6,564.0 499.5,564.0 502.0,565.2 506.9,568.9 511.9,572.6 516.8,575.1 520.5,577.5 518.0,580.0 513.1,577.5 509.4,578.8 513.1,582.5 515.6,581.2 514.3,583.7 509.4,581.2 504.4,578.8 497.0,577.5 489.6,578.3 484.7,576.8 479.8,575.1 474.8,572.6 471.1,570.1" fill="#c6eab5" stroke="#8aa890" stroke-width="0.3"/>
<polygon points="479.8,581.2 484.7,578.8 492.1,580.0 499.5,581.2 505.7,582.5 509.4,586.2 506.9,589.9 503.2,588.6 505.7,594.8 506.9,602.2 503.2,601.0 499.5,596.0 497.0,598.5 498.3,604.7 494.6,602.2 490.9,598.5 487.2,601.0 484.7,596.0 482.2,589.9 479.8,584.9" fill="#c6eab5" stroke="#8aa890" stroke-width="0.3"/>
<polygon points="515.6,617.0 520.5,615.3 527.9,615.8 534.1,615.3 541.5,614.6 548.9,614.6 551.9,617.0 548.9,619.5 542.7,620.7 536.5,622.7 531.6,623.7 525.4,622.0 519.3,621.2 515.6,620.2" fill="#6bcdbc" stroke="#6a9a95" stroke-width="0.3"/>
<polygon points="534.1,554.1 537.8,551.6 542.7,552.8 542.7,556.5 537.8,557.8 534.6,556.5" fill="#6bcdbc" stroke="#6a9a95" stroke-width="0.25"/>
<polygon points="536.0,565.2 539.0,564.0 540.2,567.7 538.5,570.1 536.5,568.4" fill="#6bcdbc" stroke="#6a9a95" stroke-width="0.25"/>
<polygon points="547.7,575.1 552.6,573.8 553.3,576.3 548.9,576.8" fill="#6bcdbc" stroke="#6a9a95" stroke-width="0.25"/>
<polygon points="566.2,597.3 568.6,592.3 571.6,591.1 571.6,594.8 568.6,599.8 566.7,600.5" fill="#6bcdbc" stroke="#6a9a95" stroke-width="0.25"/>
<polygon points="560.0,603.5 561.2,602.2 561.7,608.4 560.0,609.6" fill="#6bcdbc" stroke="#6a9a95" stroke-width="0.25"/>
<polygon points="521.7,545.4 525.4,543.7 526.7,546.2 523.7,547.9" fill="#6bcdbc" stroke="#6a9a95" stroke-width="0.25"/>
<polygon points="523.7,577.5 527.9,580.0 530.4,582.5 526.7,581.2" fill="#6bcdbc" stroke="#6a9a95" stroke-width="0.25"/>
<polygon points="541.5,578.8 545.2,576.8 546.4,578.8 542.7,580.7" fill="#6bcdbc" stroke="#6a9a95" stroke-width="0.25"/>
<polygon points="534.1,588.6 537.0,587.4 537.8,591.1 534.8,592.3" fill="#6bcdbc" stroke="#6a9a95" stroke-width="0.25"/>
<polygon points="520.5,588.6 523.0,587.4 523.7,590.6 521.0,591.1" fill="#6bcdbc" stroke="#6a9a95" stroke-width="0.25"/>
<polygon points="530.4,594.8 534.1,594.1 534.6,596.5 531.1,597.3" fill="#6bcdbc" stroke="#6a9a95" stroke-width="0.25"/>
<polygon points="523.0,596.0 526.2,595.1 526.7,597.5 523.5,598.0" fill="#6bcdbc" stroke="#6a9a95" stroke-width="0.25"/>
<polygon points="555.1,586.2 558.3,588.1 559.3,590.6 556.3,589.1" fill="#6bcdbc" stroke="#6a9a95" stroke-width="0.25"/>
<polygon points="536.5,598.0 539.0,597.5 539.5,600.0 537.0,600.5" fill="#6bcdbc" stroke="#6a9a95" stroke-width="0.25"/>
<polygon points="525.4,535.6 528.6,534.8 529.1,537.3 526.2,538.0" fill="#c6eab5" stroke="#8aa890" stroke-width="0.25"/>
<polygon points="461.2,559.0 463.0,562.7 464.4,565.2 462.5,564.0" fill="#c6eab5" stroke="#8aa890" stroke-width="0.25"/>
<polygon points="469.9,578.8 472.3,577.5 473.6,581.2 471.1,583.2" fill="#c6eab5" stroke="#8aa890" stroke-width="0.25"/>
<polygon points="475.3,587.4 477.3,586.7 477.8,589.1 475.8,589.9" fill="#c6eab5" stroke="#8aa890" stroke-width="0.25"/>
<polygon points="515.6,534.3 517.3,533.1 518.3,535.6 516.3,536.3" fill="#c6eab5" stroke="#8aa890" stroke-width="0.25"/>
<polygon points="504.4,543.7 507.4,544.7 508.4,547.2 505.9,546.2" fill="#c6eab5" stroke="#8aa890" stroke-width="0.25"/>
<polygon points="627.9,599.8 631.6,596.0 636.5,593.1 641.5,591.1 646.4,587.4 651.4,582.5 650.1,586.2 647.2,590.6 648.9,593.6 645.2,597.3 641.5,600.5 636.5,603.0 631.6,603.0 628.4,601.5" fill="#6bcdbc" stroke="#6a9a95" stroke-width="0.3"/>
<polygon points="393.7,622.8 396.7,624.6 398.1,626.7 395.2,625.8" fill="#6bcdbc" stroke="#6a9a95" stroke-width="0.25"/>
<polygon points="327.2,327.2 332.1,328.4 335.8,330.9 337.0,335.8 344.4,334.6 349.4,340.7 356.8,338.3 364.2,334.6 369.1,332.1 372.8,334.6 374.1,338.3 379.0,340.7 380.2,348.1 384.4,357.3 383.2,364.7 385.7,372.1 388.1,379.5 389.4,385.7 386.9,388.1 382.0,389.4 374.6,393.1 368.4,398.0 362.2,400.5 364.7,407.9 368.4,414.1 374.6,419.0 379.5,425.2 375.8,428.9 370.9,431.4 368.4,435.1 372.1,438.8 370.9,443.7 365.9,442.5 358.5,443.7 349.9,444.9 343.7,443.7 338.8,446.2 335.1,443.7 328.9,442.5 325.2,440.0 322.7,441.2 314.1,441.2 314.1,435.1 316.5,428.9 320.2,420.2 314.1,416.5 299.3,414.1 295.6,410.4 295.6,406.7 293.1,401.7 294.3,398.0 293.1,389.4 291.9,383.2 293.1,375.8 299.3,370.9 300.5,364.7 304.2,359.8 306.7,351.1 312.3,358.0 311.1,350.6 312.3,345.7 319.8,345.7 324.7,340.7 325.9,333.3" fill="#c6eab5" stroke="#8fb08a" stroke-width="0.35"/>
<polygon points="449.4,247.5 453.1,243.8 459.3,241.4 467.9,238.9 476.5,236.9 484.0,235.9 485.2,242.6 484.0,248.8 485.2,256.2 487.7,262.3 486.9,266.5 481.5,268.0 474.1,266.0 467.9,263.6 461.7,266.0 460.0,264.8 459.3,261.1 455.6,257.4 450.6,253.7" fill="#fee998" stroke="#cdb86c" stroke-width="0.35"/>
<polygon points="439.5,253.7 443.2,251.2 446.4,253.7 444.4,257.4 440.7,257.4" fill="#fee998" stroke="#c9b56a" stroke-width="0.3"/>
<polygon points="437.0,263.6 440.7,259.9 445.7,258.1 449.4,258.6 448.1,262.3 443.2,266.0 439.5,268.5 437.5,266.0" fill="#fee998" stroke="#c9b56a" stroke-width="0.3"/>
<polygon points="460.0,264.8 461.7,266.0 467.9,263.6 474.1,266.0 481.5,268.0 486.9,266.5 491.4,271.0 493.8,278.4 497.5,284.6 498.8,288.3 495.1,293.2 490.1,296.9 487.7,298.1 480.2,294.4 472.8,292.0 469.1,289.5 461.7,292.0 451.9,293.2 443.2,295.7 437.0,299.4 436.5,293.2 437.0,285.8 438.3,278.4 440.7,273.5 444.4,272.2 448.1,274.7 451.9,278.4 455.6,280.9 459.3,279.6 460.5,274.7 459.3,268.5" fill="#fee998" stroke="#cdb86c" stroke-width="0.35"/>
<polygon points="437.0,299.4 443.2,295.7 451.9,293.2 461.7,292.0 469.1,289.5 472.8,292.0 480.2,294.4 487.7,298.1 492.6,302.5 488.9,308.6 484.0,316.0 482.7,322.2 475.3,325.9 470.4,333.3 463.0,331.4 456.8,328.4 455.6,318.5 448.1,316.0 440.7,312.3 438.3,306.2" fill="#fee998" stroke="#cdb86c" stroke-width="0.35"/>
<polyline points="324.1,467.8 325.0,475.2 322.2,480.7 325.9,486.3 330.6,489.1 331.5,483.5 337.0,482.6" fill="none" stroke="#4f98a4" stroke-width="0.4"/>
<polyline points="313.9,495.6 318.5,491.9 325.9,492.8 330.6,489.1 336.1,493.7 341.7,496.5" fill="none" stroke="#4f98a4" stroke-width="0.4"/>
<polyline points="344.4,460.4 346.3,467.8 344.4,473.3 348.1,478.9 355.6,480.7 363.0,481.7 365.7,484.4" fill="none" stroke="#4f98a4" stroke-width="0.4"/>
<polyline points="344.4,460.4 351.9,458.5 359.3,462.2 364.8,458.5" fill="none" stroke="#4f98a4" stroke-width="0.4"/>
<polyline points="359.3,462.2 361.1,469.6 355.6,473.3 348.1,472.4 346.3,467.8" fill="none" stroke="#4f98a4" stroke-width="0.4"/>
<polyline points="364.8,458.5 368.5,465.9 372.2,469.6 374.1,472.4" fill="none" stroke="#4f98a4" stroke-width="0.4"/>
<polyline points="331.5,483.5 338.9,486.3 346.3,490.0 355.6,491.9 361.1,495.6 366.7,498.3 367.6,500.2" fill="none" stroke="#4f98a4" stroke-width="0.4"/>
<polyline points="341.7,496.5 346.3,495.6 351.9,497.4 357.4,498.3 363.0,501.1 364.8,504.8 362.0,510.4 361.1,515.9 357.4,521.5 352.8,524.3" fill="none" stroke="#4f98a4" stroke-width="0.4"/>
<polyline points="364.8,504.8 370.4,506.7 374.1,512.2 375.9,517.8 373.1,522.4 368.5,524.3 363.0,521.5 361.1,515.9" fill="none" stroke="#4f98a4" stroke-width="0.4"/>
<polyline points="374.1,512.2 379.6,510.4 382.4,513.1" fill="none" stroke="#4f98a4" stroke-width="0.4"/>
<polyline points="373.1,522.4 375.9,527.0 378.7,528.9" fill="none" stroke="#4f98a4" stroke-width="0.4"/>
<polyline points="375.9,517.8 379.6,523.3 378.7,528.9" fill="none" stroke="#62a89b" stroke-width="0.4"/>
<polyline points="387.0,539.1 392.6,536.3 396.3,532.6 400.0,532.6" fill="none" stroke="#62a89b" stroke-width="0.4"/>
<polyline points="392.6,536.3 394.4,541.9 400.0,545.6 403.7,540.9" fill="none" stroke="#62a89b" stroke-width="0.4"/>
<polyline points="400.0,545.6 403.7,551.1 407.4,554.8 411.1,553.0 414.8,545.6" fill="none" stroke="#62a89b" stroke-width="0.4"/>
<polyline points="381.5,532.6 387.0,528.9 392.6,527.0 396.3,532.6" fill="none" stroke="#62a89b" stroke-width="0.4"/>
<polyline points="323.9,298.5 330.7,297.8 336.2,299.2 342.3,300.6" fill="none" stroke="#62a89b" stroke-width="0.4"/>
<polyline points="322.6,310.7 329.4,310.1 336.2,310.7 341.3,310.7" fill="none" stroke="#62a89b" stroke-width="0.4"/>
<polygon points="541.5,532.3 545.2,528.1 551.4,524.4 557.5,522.0 562.5,519.5 568.6,519.0 571.6,520.7 568.6,523.2 563.7,524.4 558.8,526.9 553.8,529.9 548.9,530.6 545.2,533.8" fill="#fff" stroke="#8aa890" stroke-width="0.3"/>
<polygon points="314.1,441.2 314.1,435.1 316.5,428.9 320.2,420.2 314.1,416.5 311.6,414.1 316.5,407.9 319.0,401.7 325.2,398.0 331.4,399.3 337.5,398.0 341.7,396.3 345.7,400.5 347.4,406.2 352.3,409.6 354.8,411.6 356.0,416.5 359.8,421.5 364.7,422.7 368.4,418.5 374.6,419.0 379.5,425.2 375.8,428.9 370.9,431.4 368.4,435.1 372.1,438.8 370.9,443.7 365.9,442.5 358.5,443.7 349.9,444.9 343.7,443.7 338.8,446.2 335.1,443.7 328.9,442.5 325.2,440.0 322.7,441.2" fill="#6bcdbc" stroke="#6a9a95" stroke-width="0.3"/>
<polygon points="300.4,387.9 303.5,386.0 307.8,386.0 312.7,384.8 316.3,387.9 315.7,390.3 312.1,392.1 307.8,394.6 304.1,397.1 302.2,397.7 301.0,394.6 299.8,391.5" fill="#6bcdbc" stroke="#6a9a95" stroke-width="0.3"/>
<polygon points="371.5,381.7 375.2,380.5 380.2,379.3 385.7,378.6 388.2,379.3 388.8,384.2 388.2,387.3 385.1,388.5 383.3,387.3 381.4,389.1 377.7,391.0 375.2,391.6 373.4,387.3 371.5,384.2" fill="#6bcdbc" stroke="#6a9a95" stroke-width="0.3"/>
<polygon points="337.0,347.8 338.8,345.7 340.7,347.8 340.9,349.6 338.2,349.9" fill="#6bcdbc" stroke="#6a9a95" stroke-width="0.3"/>
<polygon points="369.1,363.8 370.3,362.0 372.8,361.4 375.0,362.6 375.5,364.7 374.0,366.3 371.3,366.7 369.4,365.7" fill="#c6eab5" stroke="#8aa890" stroke-width="0.4"/>
<polyline points="470.4,304.9 474.1,303.7 477.8,306.2 482.7,304.9 481.5,311.1 477.8,314.8 476.5,321.0 472.8,318.5 471.6,312.3" fill="none" stroke="#c9b56a" stroke-width="0.4"/>
<polyline points="552.2,514.4 559.6,518.9 568.5,517.4 577.4,511.5 589.3,510.0 598.1,505.6 608.5,499.6 610.0,493.7" fill="none" stroke="#8fb08a" stroke-width="0.4"/>
<polyline points="589.3,510.0 593.7,520.4 607.0,521.9 618.9,517.4 624.8,514.4 630.7,508.5 624.8,499.6 627.8,490.7 630.7,483.3" fill="none" stroke="#8fb08a" stroke-width="0.4"/>
<polyline points="624.8,514.4 632.2,518.9 639.6,523.3 648.5,517.4 657.4,514.4 666.3,511.5 675.2,505.6 678.1,496.7 672.2,492.2 657.4,493.7 651.5,486.3" fill="none" stroke="#8fb08a" stroke-width="0.4"/>
<polyline points="618.9,517.4 621.9,526.3 627.8,533.7 630.7,544.1 639.6,548.5 648.5,544.1 651.5,538.1 647.0,529.3 639.6,523.3" fill="none" stroke="#8fb08a" stroke-width="0.4"/>
<polyline points="651.5,538.1 660.4,532.2 664.8,526.3 672.2,523.3 675.2,514.4 675.2,505.6" fill="none" stroke="#8fb08a" stroke-width="0.4"/>
<polyline points="678.1,496.7 690.0,495.2 698.9,493.7 707.8,495.2 713.7,489.3 719.6,481.9 722.6,473.0" fill="none" stroke="#8fb08a" stroke-width="0.4"/>
<polyline points="698.9,493.7 695.9,502.6 687.0,508.5 682.6,517.4 675.2,514.4" fill="none" stroke="#8fb08a" stroke-width="0.4"/>
<polyline points="682.6,517.4 690.0,520.4 695.9,517.4 707.8,511.5 719.6,507.0 734.4,505.6 747.8,508.5" fill="none" stroke="#8fb08a" stroke-width="0.4"/>
<polyline points="719.6,507.0 713.7,517.4 707.8,526.3 698.9,533.7 691.5,538.1 684.1,544.1" fill="none" stroke="#8fb08a" stroke-width="0.4"/>
<polyline points="660.4,532.2 663.3,544.1 667.8,554.4 669.3,558.9" fill="none" stroke="#8fb08a" stroke-width="0.4"/>
<polyline points="672.2,523.3 678.1,529.3 681.1,538.1 684.1,544.1" fill="none" stroke="#8fb08a" stroke-width="0.4"/>
<polyline points="593.7,520.4 586.3,527.8 574.4,533.7 562.6,538.1 553.7,539.6 544.8,542.6" fill="none" stroke="#8fb08a" stroke-width="0.4"/>
<polyline points="607.0,521.9 608.5,532.2 604.1,541.1 599.6,550.0 589.3,555.9 586.3,561.9 584.8,572.2 586.3,582.6" fill="none" stroke="#8fb08a" stroke-width="0.4"/>
<polyline points="599.6,550.0 607.0,557.4 618.9,561.9 627.8,567.8 632.2,572.2 627.8,579.6" fill="none" stroke="#8fb08a" stroke-width="0.4"/>
<polyline points="630.7,544.1 632.2,555.9 638.1,564.8 632.2,572.2" fill="none" stroke="#8fb08a" stroke-width="0.4"/>
<polyline points="586.3,527.8 584.8,541.1 587.8,550.0 589.3,555.9" fill="none" stroke="#8fb08a" stroke-width="0.4"/>
<polyline points="562.6,538.1 565.6,550.0 559.6,558.9 550.7,555.9" fill="none" stroke="#8fb08a" stroke-width="0.4"/>
<polyline points="565.6,550.0 574.4,555.9 586.3,561.9" fill="none" stroke="#8fb08a" stroke-width="0.4"/>
<polyline points="734.4,505.6 731.5,493.7 725.6,484.8 722.6,473.0" fill="none" stroke="#8fb08a" stroke-width="0.4"/>
<polyline points="471.1,547.9 478.5,550.4 484.7,545.4" fill="none" stroke="#62a89b" stroke-width="0.4"/>
<polyline points="478.5,550.4 477.3,559.0 474.8,567.7" fill="none" stroke="#62a89b" stroke-width="0.4"/>
<polyline points="484.7,564.0 485.9,554.1 493.3,552.8" fill="none" stroke="#62a89b" stroke-width="0.4"/>
<polyline points="493.3,528.9 494.6,535.6 490.9,547.9" fill="none" stroke="#8fb08a" stroke-width="0.4"/>
<polyline points="511.9,523.7 513.1,531.9" fill="none" stroke="#8fb08a" stroke-width="0.4"/>
<polyline points="484.7,578.8 489.6,586.2 487.2,593.6 490.9,598.5" fill="none" stroke="#8fb08a" stroke-width="0.4"/>
<polyline points="489.6,586.2 499.5,587.4 506.9,589.9" fill="none" stroke="#8fb08a" stroke-width="0.4"/>
<polyline points="489.6,562.7 490.9,570.1 497.0,577.5" fill="none" stroke="#8fb08a" stroke-width="0.4"/>
<polygon points="273.4,378.0 276.5,376.2 278.9,374.4 277.1,373.1 280.2,370.7 282.6,368.8 285.1,365.8 286.9,362.1 288.1,358.4 288.7,355.3 290.6,356.6 292.4,353.5 295.5,352.3 296.1,350.4 291.8,351.4 290.6,351.0 294.3,349.2 299.2,348.6 304.1,348.8 307.8,349.8 310.8,350.4 312.7,352.3 312.4,356.0 311.4,359.6 309.0,362.1 308.4,364.5 310.8,366.4 310.2,369.4 307.8,371.9 306.5,373.7 303.5,374.4 300.4,375.6 300.4,378.0 301.6,380.5 301.0,383.6 299.8,386.0 297.9,387.2 297.3,384.8 296.7,382.3 294.3,381.1 290.6,380.5 287.5,379.9 285.1,379.3 282.6,381.1 279.5,380.5 276.5,379.9 273.4,380.5" fill="#6bcdbc" stroke="#62a89b" stroke-width="0.35"/>
<polygon points="264.8,383.6 269.1,381.7 273.4,380.5 276.5,379.9 279.5,380.5 282.6,381.1 285.1,379.3 287.5,379.9 290.6,380.5 294.3,381.1 296.7,382.3 297.3,386.6 298.6,389.1 299.8,391.5 301.0,394.6 302.2,397.7 300.4,400.1 297.3,401.3 296.1,403.8 295.5,406.9 296.1,409.9 293.0,409.3 290.0,407.5 287.5,405.6 286.3,402.0 283.8,401.3 280.8,402.0 280.2,398.9 277.1,397.1 274.6,394.6 271.6,392.8 269.7,389.7 266.7,388.5 265.4,386.0" fill="#c6eab5" stroke="#8fb08a" stroke-width="0.35"/>
<polyline points="325.2,342.8 329.6,344.1 334.5,346.5 337.6,348.4 341.3,349.6 344.4,350.9 346.2,348.4 346.9,344.7 348.1,341.0" fill="none" stroke="#8aa890" stroke-width="0.4"/>
<polyline points="346.2,349.6 349.3,352.7 353.0,354.0 356.7,352.1 361.7,352.7 366.6,353.3 371.5,350.9 375.2,349.0 379.0,349.6 380.8,350.9" fill="none" stroke="#8aa890" stroke-width="0.4"/>
<polyline points="325.2,342.8 324.6,348.4 325.9,353.3 324.0,357.0 322.8,360.7 323.4,364.4 321.5,366.9 320.3,370.6 321.5,374.3 319.7,376.2" fill="none" stroke="#8aa890" stroke-width="0.4"/>
<polyline points="309.8,360.7 313.5,365.7 316.0,366.3 319.7,368.1 320.3,370.6" fill="none" stroke="#8aa890" stroke-width="0.4"/>
<polyline points="307.3,371.9 311.0,378.0 310.4,380.5 314.8,378.0 319.7,376.2 324.6,378.0 325.2,381.7 329.0,380.5 329.6,378.0" fill="none" stroke="#8aa890" stroke-width="0.4"/>
<polyline points="325.9,353.3 330.8,358.3 335.7,360.7 340.7,364.4 342.5,362.0 344.4,360.7 346.9,359.5 351.8,357.0 353.0,354.0" fill="none" stroke="#8aa890" stroke-width="0.4"/>
<polyline points="351.8,357.0 356.7,358.3 360.4,360.7 361.7,365.7 362.3,370.6 365.4,373.1 369.1,374.3 370.3,378.0 371.5,381.7" fill="none" stroke="#8aa890" stroke-width="0.4"/>
<polyline points="344.4,360.7 343.8,365.7 344.4,370.6 345.6,374.3 344.4,378.0 348.1,379.3 351.8,381.7 354.3,385.4 358.0,387.3 360.4,388.5 361.7,384.2 361.0,380.5 364.1,378.0 369.1,377.4 370.3,378.0" fill="none" stroke="#8aa890" stroke-width="0.4"/>
<polyline points="329.6,378.0 332.0,374.3 334.5,378.0 335.7,381.7 339.4,384.2 338.8,389.1 337.0,392.8 335.1,396.5" fill="none" stroke="#8aa890" stroke-width="0.4"/>
<polyline points="335.7,360.7 334.5,365.7 335.7,370.6 334.5,374.3 332.0,374.3" fill="none" stroke="#8aa890" stroke-width="0.4"/>
<polyline points="344.4,378.0 341.9,380.5 339.4,384.2" fill="none" stroke="#8aa890" stroke-width="0.4"/>
<polyline points="316.0,366.3 314.8,371.9 316.0,375.6 314.8,378.0" fill="none" stroke="#8aa890" stroke-width="0.4"/>
<polyline points="325.2,381.7 324.6,386.7 322.2,389.1 323.4,392.8 320.9,395.3 322.2,398.4" fill="none" stroke="#8aa890" stroke-width="0.4"/>
<polyline points="320.6,420.6 323.9,421.7 326.1,418.3 327.8,415.0 326.7,411.7 329.4,410.6 328.9,406.1 327.8,402.8 327.8,397.8" fill="none" stroke="#62a89b" stroke-width="0.4"/>
<polyline points="326.1,418.3 326.7,422.8 325.0,427.2 327.2,429.4 326.7,433.9 328.9,437.2 328.9,442.8" fill="none" stroke="#62a89b" stroke-width="0.4"/>
<polyline points="329.4,410.6 333.3,411.7 336.7,410.0 338.3,412.2 340.6,411.7 341.7,407.8 345.0,407.2" fill="none" stroke="#62a89b" stroke-width="0.4"/>
<polyline points="340.6,411.7 341.1,415.0 343.9,418.3 344.4,421.7 348.9,423.3 351.7,421.7 352.8,417.2" fill="none" stroke="#62a89b" stroke-width="0.4"/>
<polyline points="327.2,429.4 332.2,427.2 336.7,427.8 338.9,426.7 340.0,422.8 344.4,421.7" fill="none" stroke="#62a89b" stroke-width="0.4"/>
<polyline points="338.9,426.7 340.0,430.6 338.9,435.0 340.6,439.4 341.7,446.1" fill="none" stroke="#62a89b" stroke-width="0.4"/>
<polyline points="348.9,423.3 352.2,427.2 351.1,431.7 347.8,435.0 348.9,439.4 348.9,446.1" fill="none" stroke="#62a89b" stroke-width="0.4"/>
<polyline points="358.9,421.7 356.7,423.9 357.8,428.3 362.2,429.4 366.7,430.6 369.4,432.8" fill="none" stroke="#62a89b" stroke-width="0.4"/>
<polyline points="334.4,399.4 333.3,402.8 334.4,406.1 333.3,411.7" fill="none" stroke="#62a89b" stroke-width="0.4"/>
<polygon points="473.6,365.3 477.8,364.1 485.2,357.9 495.1,356.7 503.7,356.2 512.3,357.9 521.0,356.2 528.4,354.7 538.3,353.7 539.5,349.3 540.7,343.1 545.7,338.1 553.1,334.4 560.5,330.7 566.2,329.5 571.1,333.2 574.8,340.6 581.0,343.1 587.2,345.6 593.3,351.7 599.5,350.5 609.4,347.3 619.3,349.3 630.4,348.8 640.2,349.3 641.5,355.4 642.7,361.6 646.4,366.5 646.4,374.0 642.7,377.7 637.8,381.4 635.3,387.5 637.0,390.0 630.9,397.4 623.5,404.8 616.0,412.2 609.9,418.4 606.7,423.3 608.6,427.5 614.8,430.7 622.2,428.3 628.4,425.3 630.1,429.0 623.5,434.4 616.0,438.1 609.9,443.1 606.2,449.5 601.7,448.3 597.5,443.1 591.4,439.4 587.7,438.1 592.6,432.0 595.1,426.5 590.1,428.3 582.7,426.5 575.3,423.3 567.9,426.5 563.7,432.0 560.5,439.4 558.0,446.8 558.0,454.2 548.1,454.9 544.4,453.5 541.2,450.5 543.2,448.0 545.7,440.6 548.1,434.4 554.3,433.2 555.1,430.7 549.4,424.6 544.4,418.4 540.7,413.5 535.8,409.8 528.4,408.0 521.0,408.0 516.0,411.0 512.3,413.5 506.2,418.4 500.0,422.1 493.8,423.3 486.4,422.1 479.0,423.3 474.1,422.1 467.9,418.4 469.1,413.5 470.4,407.3 467.9,401.1 469.1,393.7 471.1,387.5 474.1,383.8 472.8,377.7 470.4,371.5 469.1,364.1" fill="#fee998" stroke="#cdb86c" stroke-width="0.35"/>
<polygon points="676.7,437.3 684.1,435.3 694.0,433.6 703.8,431.1 711.2,429.9 718.6,430.4 726.0,428.6 731.0,425.4 738.4,424.4 743.3,426.9 749.5,429.9 755.7,431.9 758.1,434.8 760.1,438.5 755.7,441.0 749.5,441.7 744.6,443.5 742.1,447.2 737.2,449.6 732.2,453.3 728.5,456.5 722.3,455.8 716.2,454.6 711.2,457.5 705.1,459.5 703.3,453.3 700.1,448.4 695.2,444.7 689.0,442.7 681.6,441.7 677.2,439.8" fill="#fee998" stroke="#cdb86c" stroke-width="0.35"/>
<polygon points="289.1,367.6 291.8,367.0 294.9,367.6 295.5,370.7 293.0,371.7 290.0,371.3" fill="#40b4c4" stroke="#4f98a4" stroke-width="0.3"/>
<polygon points="264.8,383.6 269.1,381.7 273.4,380.5 279.5,380.5 282.6,381.1 285.1,379.3 290.6,380.5 294.3,381.1 296.7,382.3 297.3,386.6 297.9,389.1 295.5,390.3 291.8,389.7 288.1,390.9 284.4,392.8 281.4,392.1 278.3,389.7 274.6,389.1 271.6,389.7 269.7,389.7 266.7,388.5 265.4,386.0" fill="#40b4c4" stroke="#3a8a98" stroke-width="0.3"/>
<polyline points="290.6,356.6 294.3,358.4 297.9,357.2 301.6,358.4 304.1,355.3 304.1,348.8" fill="none" stroke="#62a89b" stroke-width="0.4"/>
<polyline points="294.3,358.4 293.7,362.7 296.7,364.5 300.4,362.7 301.6,358.4" fill="none" stroke="#62a89b" stroke-width="0.4"/>
<polyline points="300.4,362.7 304.1,364.5 308.4,364.5" fill="none" stroke="#62a89b" stroke-width="0.4"/>
<polyline points="286.9,362.1 290.6,363.3 293.7,362.7" fill="none" stroke="#62a89b" stroke-width="0.4"/>
<polyline points="296.7,364.5 296.1,367.6" fill="none" stroke="#62a89b" stroke-width="0.4"/>
<polyline points="285.1,365.8 288.7,367.0" fill="none" stroke="#62a89b" stroke-width="0.4"/>
<polyline points="295.5,370.7 299.2,370.1 303.5,370.7 307.8,371.9" fill="none" stroke="#62a89b" stroke-width="0.4"/>
<polyline points="282.6,375.0 286.9,373.7 291.8,374.4 295.5,373.7 300.4,375.6" fill="none" stroke="#62a89b" stroke-width="0.4"/>
<polyline points="280.2,370.7 283.2,371.9 290.0,371.3" fill="none" stroke="#62a89b" stroke-width="0.4"/>
<polyline points="282.6,375.0 281.4,376.8 278.9,374.4" fill="none" stroke="#62a89b" stroke-width="0.4"/>
<polygon points="379.8,342.1 384.7,339.3 391.6,335.9 398.5,331.7 402.6,329.0 409.5,325.5 415.0,323.9 417.8,326.2 420.5,329.0 425.4,330.4 428.1,328.3 430.2,327.6 437.1,326.9 446.8,326.2 455.7,325.5 459.2,326.9 463.3,329.7 465.4,330.4 467.5,335.2 470.2,340.7 471.6,346.2 472.3,349.7 468.9,353.8 467.5,356.6 471.6,358.6 473.0,361.4 472.3,365.5 474.4,369.7 477.1,373.8 479.9,378.0 480.6,382.1 477.1,384.9 475.1,387.6 473.7,391.8 471.6,396.6 470.2,401.4 469.5,406.3 472.3,408.3 467.5,406.3 463.3,404.2 457.8,404.2 452.3,405.6 446.8,407.0 444.0,408.3 441.3,406.3 438.5,407.0 435.7,405.6 434.4,407.6 430.2,408.3 427.4,404.2 424.7,402.1 421.9,400.1 417.8,399.4 415.0,396.6 411.6,395.2 409.5,397.3 406.7,398.7 404.7,395.2 401.2,391.8 395.7,389.7 391.6,387.6 388.8,386.9 388.1,382.1 386.7,376.6 385.4,371.1 384.0,365.5 383.3,360.0 381.2,355.9 379.8,350.4 380.5,346.2" fill="#fee998" stroke="#cdb86c" stroke-width="0.35"/>
<polygon points="474.1,422.1 479.0,423.3 486.4,422.1 493.8,423.3 500.0,422.1 506.2,418.4 512.3,413.5 516.0,411.0 518.5,413.5 523.5,417.2 528.4,423.3 533.3,429.5 537.0,435.7 538.8,443.1 540.7,450.0 542.0,450.9 546.9,452.1 553.1,449.6 556.8,450.9 558.0,457.0 556.8,464.4 553.1,470.6 550.6,477.3 544.4,477.3 537.0,476.3 528.4,477.3 521.0,480.5 516.0,484.2 508.6,486.2 498.8,487.2 488.9,487.9 485.2,486.7 481.5,483.0 480.2,479.3 474.1,478.0 467.9,473.1 463.0,469.4 459.3,464.4 453.1,458.3 458.0,452.1 461.7,445.9 465.4,438.5 467.9,431.1" fill="#fee998" stroke="#cdb86c" stroke-width="0.35"/>
<polygon points="438.3,463.2 445.7,460.7 453.1,458.3 459.3,464.4 463.0,469.4 467.9,473.1 474.1,478.0 480.2,479.3 481.5,483.0 485.2,486.7 482.7,491.6 485.2,496.5 488.9,500.2 486.4,505.2 485.2,510.1 484.0,515.1 476.5,515.1 475.3,510.1 470.4,506.4 465.4,502.7 461.7,506.4 458.0,512.6 458.0,508.9 451.9,505.2 445.7,501.5 444.4,499.0 448.1,494.1 445.7,489.1 444.4,483.0 440.7,478.0 444.4,474.3 440.7,469.4" fill="#fee998" stroke="#cdb86c" stroke-width="0.35"/>
<polygon points="383.1,474.7 388.0,475.4 393.0,474.7 397.9,472.2 394.2,468.5 397.9,463.6 401.6,459.9 402.8,454.9 406.5,452.5 410.2,456.2 415.2,461.1 421.4,464.8 430.0,466.0 438.1,464.3 443.6,466.8 445.6,472.2 444.3,477.2 440.6,477.7 430.7,477.2 420.9,476.7 411.0,477.2 404.1,479.6 407.3,485.8 411.0,490.7 415.9,496.9 422.1,503.1 428.3,509.3 434.4,514.7 438.1,516.2 438.1,517.9 430.7,513.7 423.3,509.3 415.9,504.3 408.5,498.1 402.3,492.0 397.4,485.8 393.7,480.9 387.5,478.4 385.1,484.6 381.4,482.1 380.1,477.2" fill="#fee998" stroke="#cdb86c" stroke-width="0.35"/>
<polygon points="296.1,403.8 297.3,401.3 299.2,400.7 301.0,402.6 302.2,406.3 302.2,409.9 299.8,411.8 296.7,411.2 296.1,409.9 295.5,406.9" fill="#40b4c4" stroke="#4f98a4" stroke-width="0.35"/>
<polygon points="313.3,442.5 317.5,442.5 322.5,441.3 324.2,440.0 325.8,441.7 330.0,442.5 334.2,443.3 335.0,446.7 334.2,450.0 336.7,452.5 340.8,453.3 343.3,454.2 343.7,457.5 341.7,460.0 340.0,462.5 338.3,460.0 335.8,460.8 333.3,461.7 330.8,462.5 329.2,465.8 327.5,469.2 325.8,466.7 324.2,463.3 320.8,464.2 317.5,465.8 313.3,467.5 309.2,468.7 306.7,469.2 305.0,465.8 304.2,461.7 301.7,460.8 298.3,462.5 295.8,463.7 297.5,460.0 300.0,455.8 303.3,451.7 306.7,447.5 310.0,445.0" fill="#40b4c4" stroke="#4f98a4" stroke-width="0.35"/>
<polygon points="334.2,443.3 335.8,445.0 339.2,445.8 343.3,444.2 347.5,445.0 352.5,444.7 356.7,443.3 360.8,441.7 365.0,440.8 370.0,440.8 371.7,442.5 370.8,437.5 369.2,434.2 371.7,431.7 375.0,430.0 378.3,428.3 380.8,424.2 385.8,421.7 391.8,419.0 398.0,420.2 405.3,421.5 411.7,422.7 414.2,427.7 415.0,433.3 412.5,437.5 410.0,440.0 409.2,445.0 407.5,450.0 406.7,452.5 403.3,454.2 398.3,455.8 393.3,457.5 390.0,459.2 385.0,459.2 380.8,459.7 376.7,458.7 372.5,456.7 368.3,455.0 363.3,452.5 360.8,450.8 356.7,451.7 351.7,452.5 347.5,455.0 343.7,457.5 343.3,454.2 340.8,453.3 336.7,452.5 334.2,450.0 335.0,446.7" fill="#6bcdbc" stroke="#62a89b" stroke-width="0.35"/>
<polygon points="360.5,399.6 362.4,402.7 364.2,406.4 365.4,410.0 368.5,413.7 372.2,416.8 375.8,419.2 379.5,422.3 382.6,424.8 385.7,425.4 388.1,423.5 390.6,421.1 391.8,419.2 395.5,419.2 399.1,419.9 404.0,421.1 407.7,421.1 411.4,421.7 413.9,419.9 416.9,418.0 420.0,416.8 422.4,414.9 424.9,411.9 427.3,408.8 429.8,407.0 427.3,405.1 424.9,402.7 421.8,400.8 418.8,399.6 416.9,397.2 415.1,397.8 412.6,395.3 410.2,394.7 408.3,397.2 406.5,398.4 404.0,395.9 402.8,392.9 399.8,391.6 396.7,390.4 393.0,389.2 391.2,387.4 389.3,388.6 387.1,389.8 384.4,388.0 383.2,389.2 379.5,391.6 375.8,394.1 372.2,395.9 367.9,398.4 364.2,400.2 361.7,400.8" fill="#c6eab5" stroke="#8fb08a" stroke-width="0.35"/>
<polygon points="376.7,458.7 380.8,459.7 385.0,459.2 390.0,459.2 393.3,457.5 398.3,455.8 403.3,454.2 406.7,452.5 407.5,455.0 405.0,457.5 403.3,460.8 400.0,463.3 399.2,467.5 398.3,471.7 395.0,474.2 390.0,475.0 386.7,474.2 383.3,475.0 380.8,473.3 379.2,470.0 380.0,465.8 377.5,462.5" fill="#6bcdbc" stroke="#62a89b" stroke-width="0.35"/>
<polyline points="273.4,380.5 274.6,384.8 274.6,389.1" fill="none" stroke="#3a8a98" stroke-width="0.4"/>
<polyline points="279.5,380.5 280.2,384.8 278.3,389.7" fill="none" stroke="#3a8a98" stroke-width="0.4"/>
<polyline points="285.1,379.3 285.7,382.9 285.1,386.6" fill="none" stroke="#3a8a98" stroke-width="0.4"/>
<polyline points="290.6,380.5 291.2,385.4 291.8,389.7" fill="none" stroke="#3a8a98" stroke-width="0.4"/>
<polyline points="281.4,388.5 285.1,386.6 288.7,387.2 288.1,390.3 284.4,391.5 281.4,388.5" fill="none" stroke="#3a8a98" stroke-width="0.4"/>
<polyline points="280.2,398.9 284.4,395.2 288.1,396.4 291.8,394.0 295.5,390.3" fill="none" stroke="#8aa890" stroke-width="0.4"/>
<polyline points="288.1,396.4 288.7,401.3 286.3,402.0" fill="none" stroke="#8aa890" stroke-width="0.4"/>
<polyline points="291.8,394.0 294.3,397.7 297.3,401.3" fill="none" stroke="#8aa890" stroke-width="0.4"/>
<polygon points="440.6,358.0 442.6,355.9 446.8,356.6 450.2,355.6 453.7,358.0 455.1,361.4 453.0,364.2 448.8,365.5 444.0,365.5 441.0,362.8" fill="#c6eab5" stroke="#8aa890" stroke-width="0.3"/>
<polygon points="433.0,397.3 436.4,393.2 441.3,389.7 444.7,392.5 448.2,393.2 452.3,391.1 456.4,384.9 459.9,382.1 463.3,384.9 466.1,387.6 470.2,386.9 475.1,387.6 473.7,391.8 471.6,396.6 470.2,401.4 469.5,406.3 467.5,406.3 463.3,404.2 457.8,404.2 452.3,405.6 446.8,407.0 444.0,408.3 441.3,406.3 438.5,407.0 435.7,405.6 434.4,402.8 432.3,400.1" fill="#c6eab5" stroke="#8aa890" stroke-width="0.3"/>
<polygon points="415.1,434.0 418.5,434.0 424.7,435.7 430.9,434.4 433.3,429.5 439.5,427.0 444.4,423.3 449.4,419.6 455.6,417.2 461.7,418.4 467.9,418.4 474.1,422.1 470.4,428.3 467.9,435.7 465.4,443.1 463.0,450.0 458.0,452.1 453.1,458.3 445.7,460.7 438.3,463.2 432.1,465.7 423.5,465.7 414.8,462.0 407.4,454.6 406.7,452.3 407.9,448.6 410.4,441.2 412.8,436.3 415.3,432.6" fill="#fee998" stroke="#cdb86c" stroke-width="0.35"/>
<polygon points="485.2,486.7 488.9,487.9 498.8,487.2 508.6,486.2 516.0,484.2 521.0,480.5 528.4,477.3 537.0,476.3 544.4,477.3 550.6,477.3 549.4,483.0 546.9,489.1 545.7,496.5 548.1,502.7 550.6,506.4 544.4,506.9 538.3,510.1 534.6,515.1 528.4,520.0 521.0,521.2 513.6,522.5 506.2,524.9 498.8,527.4 493.3,528.6 492.6,523.7 490.1,518.8 484.0,515.1 485.2,510.1 486.4,505.2 488.9,500.2 485.2,496.5 482.7,491.6" fill="#fee998" stroke="#cdb86c" stroke-width="0.35"/>
<polygon points="438.3,516.3 439.5,510.1 442.0,505.2 445.7,501.5 451.9,505.2 458.0,508.9 458.0,512.6 454.3,515.1 450.6,517.5 449.4,522.5 448.1,526.2 444.4,522.5 440.7,518.8" fill="#fee998" stroke="#cdb86c" stroke-width="0.35"/>
<polygon points="449.4,522.5 450.6,517.5 454.3,515.1 458.0,512.6 460.5,518.8 463.7,523.7 464.7,529.9 466.2,534.8 470.4,539.8 471.6,543.5 469.1,548.4 467.9,553.3 465.4,558.8 461.7,555.8 458.0,552.1 454.3,548.4 453.1,542.2 452.3,536.0 453.1,529.9 450.6,526.2" fill="#fee998" stroke="#cdb86c" stroke-width="0.35"/>
<polygon points="463.7,523.7 466.7,521.2 471.6,517.5 476.5,515.1 484.0,515.1 490.1,518.8 492.6,523.7 493.3,528.6 488.9,531.1 484.0,533.6 477.8,537.3 472.8,538.5 470.4,539.8 466.2,534.8 464.7,529.9" fill="#fee998" stroke="#cdb86c" stroke-width="0.35"/>
<polygon points="383.1,474.7 388.0,475.4 393.0,474.7 397.9,472.2 399.9,475.9 404.1,479.6 407.3,485.8 411.0,490.7 415.9,496.9 422.1,503.1 428.3,509.3 434.4,514.7 438.1,516.2 438.1,517.9 430.7,513.7 423.3,509.3 415.9,504.3 408.5,498.1 402.3,492.0 397.4,485.8 393.7,480.9 387.5,478.4 385.1,484.6 381.4,482.1 380.1,477.2" fill="#c6eab5" stroke="#8aa890" stroke-width="0.3"/>
<polygon points="404.7,429.0 406.5,428.2 408.3,429.3 408.0,430.9 405.9,431.5 404.7,430.5" fill="#c6eab5" stroke="#8aa890" stroke-width="0.3"/>
<polygon points="361.7,400.8 364.2,400.2 367.9,398.4 372.2,395.9 375.8,394.1 379.5,391.6 383.2,389.2 385.7,392.3 385.0,396.6 382.6,399.0 379.3,400.5 375.6,402.3 371.9,404.2 368.2,406.0 364.8,407.2 362.6,403.9" fill="#fee998" stroke="#cdb86c" stroke-width="0.3"/>
<polygon points="412.6,395.3 415.1,397.8 416.9,397.2 418.8,399.6 421.8,400.8 424.9,402.7 427.3,405.1 429.8,407.0 427.1,409.2 423.4,408.0 419.7,406.0 416.1,404.8 412.6,403.3 411.2,399.4" fill="#fee998" stroke="#cdb86c" stroke-width="0.3"/>
<polygon points="393.3,457.5 398.3,455.8 403.3,454.2 406.7,452.5 407.5,455.0 405.0,457.5 403.3,460.8 400.0,463.3 399.2,467.5 398.3,471.7 395.0,474.2 390.0,475.0 386.7,474.2 385.8,470.0 388.3,468.3 392.5,467.5 393.3,463.3 391.7,460.0" fill="#c6eab5" stroke="#8aa890" stroke-width="0.3"/>
<polyline points="402.6,329.0 401.9,333.8 404.0,339.3 403.3,344.8 400.5,349.7 397.1,353.1 390.2,355.9 385.4,358.6 383.3,360.0" fill="none" stroke="#c9b56a" stroke-width="0.4"/>
<polyline points="403.3,344.8 408.1,345.5 413.6,340.7 419.2,340.7 426.1,342.8 428.1,337.9 426.1,334.5 425.4,330.4" fill="none" stroke="#c9b56a" stroke-width="0.4"/>
<polyline points="426.1,342.8 430.9,346.9 435.7,345.5 442.6,343.5 450.2,340.7 455.7,335.2 457.8,331.0 455.7,325.5" fill="none" stroke="#c9b56a" stroke-width="0.4"/>
<polyline points="450.2,340.7 453.0,346.2 457.8,351.1 463.3,355.9 467.5,356.6" fill="none" stroke="#c9b56a" stroke-width="0.4"/>
<polyline points="408.1,345.5 409.5,351.7 411.6,357.3 417.8,360.0 426.1,361.4 430.2,357.3 430.9,346.9" fill="none" stroke="#c9b56a" stroke-width="0.4"/>
<polyline points="397.1,353.1 395.7,360.0 397.8,366.9 399.2,371.8 395.7,375.2 391.6,378.0 388.8,380.7" fill="none" stroke="#c9b56a" stroke-width="0.4"/>
<polyline points="399.2,371.8 404.0,374.5 409.5,375.2 414.3,376.6 416.4,381.4 420.5,380.0 421.9,373.8 424.7,366.9 426.1,361.4" fill="none" stroke="#c9b56a" stroke-width="0.4"/>
<polyline points="430.2,361.4 435.7,361.4 440.6,362.8" fill="none" stroke="#c9b56a" stroke-width="0.4"/>
<polyline points="453.0,364.2 456.4,362.8 460.6,360.0 463.3,355.9" fill="none" stroke="#c9b56a" stroke-width="0.4"/>
<polyline points="455.1,361.4 455.7,368.3 456.4,375.2 457.8,379.4 459.9,382.1" fill="none" stroke="#c9b56a" stroke-width="0.4"/>
<polyline points="442.6,365.5 441.9,371.1 443.3,376.6 439.9,379.4 437.8,383.5 441.3,389.7" fill="none" stroke="#c9b56a" stroke-width="0.4"/>
<polyline points="420.5,380.0 426.1,382.1 433.0,382.8 437.8,383.5" fill="none" stroke="#c9b56a" stroke-width="0.4"/>
<polyline points="443.3,376.6 449.5,378.0 454.4,379.4 457.8,379.4" fill="none" stroke="#c9b56a" stroke-width="0.4"/>
<polyline points="416.4,381.4 414.3,386.3 412.3,391.8 411.6,395.2" fill="none" stroke="#c9b56a" stroke-width="0.4"/>
<polyline points="426.1,382.1 425.4,389.0 423.3,394.5 421.9,400.1" fill="none" stroke="#c9b56a" stroke-width="0.4"/>
<polyline points="433.0,382.8 435.7,388.3 436.4,393.2" fill="none" stroke="#c9b56a" stroke-width="0.4"/>
<polyline points="452.3,391.1 454.4,397.3 455.7,402.8 457.8,404.2" fill="none" stroke="#c9b56a" stroke-width="0.4"/>
<polygon points="429.6,407.3 433.3,406.0 439.5,404.8 443.2,409.8 449.4,406.0 456.8,404.1 464.2,406.0 470.4,407.3 469.1,413.5 467.9,418.4 461.7,418.4 455.6,417.2 449.4,419.6 444.4,423.3 439.5,427.0 433.3,429.5 430.9,434.4 424.7,435.7 418.5,434.0 415.1,434.0 414.3,430.2 413.3,427.8 412.6,424.8 411.4,421.6 413.8,419.9 416.8,417.9 420.0,416.7 422.5,414.9 424.9,412.0 427.4,408.8" fill="#fee998" stroke="#cdb86c" stroke-width="0.35"/>
<polygon points="516.0,411.0 521.0,408.0 528.4,408.0 535.8,409.8 540.7,413.5 544.4,418.4 549.4,424.6 555.1,430.7 554.3,433.2 548.1,434.4 545.7,440.6 543.2,448.0 540.7,450.0 538.8,443.1 537.0,435.7 533.3,429.5 528.4,423.3 523.5,417.2 518.5,413.5" fill="#b4b4b4" stroke="#8c8c8c" stroke-width="0.35"/>
<polygon points="449.4,522.5 450.6,517.5 454.3,515.1 458.0,512.6 460.5,518.8 463.7,523.7 464.7,529.9 466.2,534.8 465.4,538.5 461.7,541.0 458.0,541.5 453.1,541.0 452.3,536.0 453.1,529.9 450.6,526.2" fill="#c6eab5" stroke="#8aa890" stroke-width="0.3"/>
<polygon points="403.7,479.3 412.3,477.3 422.2,476.8 432.1,477.3 440.7,478.0 444.4,483.0 445.7,489.1 448.1,494.1 444.4,499.0 445.7,501.5 442.0,505.2 439.5,510.1 438.3,516.3 434.6,514.3 428.4,508.9 422.2,502.7 416.0,496.5 411.1,490.4 407.4,485.4" fill="#b4b4b4" stroke="#8c8c8c" stroke-width="0.35"/>
<polygon points="404.8,466.8 407.3,466.3 407.8,468.8 405.3,469.3" fill="#c6eab5" stroke="#8aa890" stroke-width="0.3"/>
<polyline points="415.2,461.1 413.5,468.5 406.0,472.2 399.9,475.9" fill="none" stroke="#cdb86c" stroke-width="0.4"/>
<polyline points="383.0,401.5 384.4,400.2 386.3,400.8 386.6,402.7 385.0,403.9 383.2,403.3 383.0,401.5" fill="none" stroke="#8aa890" stroke-width="0.4"/>
<polyline points="381.4,397.2 384.4,395.9 389.3,393.5 391.8,394.7 394.2,398.4 395.5,403.3 393.0,406.4 389.3,409.4 384.4,410.7 379.5,410.0 377.7,406.4 378.3,401.5 378.3,398.4" fill="none" stroke="#8aa890" stroke-width="0.4"/>
<polyline points="395.5,403.3 400.4,405.8 406.5,406.4 409.0,409.4 411.4,413.1 413.9,416.8" fill="none" stroke="#8aa890" stroke-width="0.4"/>
<polyline points="389.3,409.4 391.8,413.1 396.7,415.6 401.6,416.2 406.5,418.0 411.4,421.7" fill="none" stroke="#8aa890" stroke-width="0.4"/>
<polyline points="406.5,406.4 409.0,402.1 408.3,397.2" fill="none" stroke="#8aa890" stroke-width="0.4"/>
<polyline points="413.2,402.1 411.4,405.8 409.0,409.4" fill="none" stroke="#8aa890" stroke-width="0.4"/>
<polyline points="416.3,403.3 418.8,408.2 422.4,410.7 424.9,411.9" fill="none" stroke="#8aa890" stroke-width="0.4"/>
<polyline points="388.1,423.5 387.5,427.2 390.6,429.0 389.3,432.7 386.3,434.6 386.9,437.6 389.9,438.9 395.5,437.6 400.4,437.0 404.0,438.9 407.7,441.3 409.6,439.5" fill="none" stroke="#62a89b" stroke-width="0.4"/>
<polyline points="379.5,441.3 383.2,440.1 386.9,437.6" fill="none" stroke="#62a89b" stroke-width="0.4"/>
<polyline points="379.5,441.3 378.3,445.0 380.8,448.7 385.7,449.9 391.8,451.1 395.5,453.6 400.4,454.8" fill="none" stroke="#62a89b" stroke-width="0.4"/>
<polyline points="362.4,450.5 367.3,453.6 373.4,454.2 379.5,452.3 380.8,448.7" fill="none" stroke="#62a89b" stroke-width="0.4"/>
<polyline points="370.9,442.5 373.4,445.0 372.2,448.7 367.3,449.9 362.4,450.5" fill="none" stroke="#62a89b" stroke-width="0.4"/>
<polygon points="412.6,424.8 415.1,423.5 417.5,426.0 418.2,429.0 416.3,431.5 414.5,430.3 413.2,427.8" fill="#c6eab5" stroke="#8aa890" stroke-width="0.3"/>
<polyline points="423.7,435.8 425.5,429.0 427.3,422.9 428.6,418.0 427.3,413.1 424.9,411.9" fill="none" stroke="#c9b56a" stroke-width="0.4"/>
<polyline points="432.3,433.3 433.5,426.6 431.6,420.5 433.5,415.6 435.9,413.1 439.6,409.4" fill="none" stroke="#c9b56a" stroke-width="0.4"/>
<polygon points="458.0,512.6 461.7,506.4 465.4,502.7 470.4,506.4 475.3,510.1 476.5,515.1 471.6,517.5 466.7,521.2 463.7,523.7 460.5,518.8" fill="#e2e2e2" stroke="#999" stroke-width="0.4"/>
<polyline points="498.6,421.0 500.7,431.5 496.5,436.7 492.3,444.1 483.9,447.2 477.6,449.3 469.3,449.3 463.0,447.2" fill="none" stroke="#cdb86c" stroke-width="0.4"/>
<polyline points="500.7,431.5 509.1,434.6 514.4,440.9 519.6,445.1 525.9,443.0 534.3,442.0 536.4,440.9" fill="none" stroke="#cdb86c" stroke-width="0.4"/>
<polyline points="492.3,444.1 496.5,452.5 500.7,458.8 494.4,463.0 483.9,465.1 479.7,469.3 477.6,476.6 480.8,478.7" fill="none" stroke="#cdb86c" stroke-width="0.4"/>
<polyline points="500.7,458.8 509.1,460.9 517.5,456.7 519.6,445.1" fill="none" stroke="#cdb86c" stroke-width="0.4"/>
<polyline points="500.7,458.8 502.8,469.3 504.9,479.7 504.9,487.7" fill="none" stroke="#cdb86c" stroke-width="0.4"/>
<polyline points="517.5,456.7 525.9,460.9 534.3,463.0 542.7,460.9 546.9,452.5" fill="none" stroke="#cdb86c" stroke-width="0.4"/>
<polyline points="525.9,460.9 528.0,469.3 534.3,472.4 542.7,471.4 551.1,469.3" fill="none" stroke="#cdb86c" stroke-width="0.4"/>
<polyline points="518.6,468.2 521.7,466.1 524.9,469.3 523.8,474.5 519.6,475.6 517.9,472.4 518.6,468.2" fill="none" stroke="#cdb86c" stroke-width="0.4"/>
<polyline points="496.5,488.1 500.7,496.5 503.9,504.9 501.8,513.3 502.8,521.7 509.1,524.9" fill="none" stroke="#cdb86c" stroke-width="0.4"/>
<polyline points="513.3,486.0 514.4,494.4 513.3,500.7 517.5,504.9 525.9,502.8 534.3,500.7 540.6,499.7 544.8,498.6" fill="none" stroke="#cdb86c" stroke-width="0.4"/>
<polyline points="503.9,504.9 513.3,500.7" fill="none" stroke="#cdb86c" stroke-width="0.4"/>
<polyline points="517.5,504.9 516.5,513.3 521.7,517.5 530.1,513.3 534.3,514.4" fill="none" stroke="#cdb86c" stroke-width="0.4"/>
<polyline points="417.8,431.5 419.9,439.9 417.8,445.1 421.0,452.5 423.1,463.0" fill="none" stroke="#cdb86c" stroke-width="0.4"/>
<polyline points="425.2,434.6 429.4,442.0 435.7,445.1 437.8,452.5 436.7,460.9 437.8,463.0" fill="none" stroke="#cdb86c" stroke-width="0.4"/>
<polyline points="450.4,419.9 452.5,427.3 449.3,433.6 445.1,437.8 440.9,442.0 435.7,445.1" fill="none" stroke="#cdb86c" stroke-width="0.4"/>
<polyline points="445.1,437.8 452.5,442.0 460.9,444.1 463.0,446.2" fill="none" stroke="#cdb86c" stroke-width="0.4"/>
<polyline points="439.9,469.3 445.1,473.5 452.5,472.4 458.8,475.6 467.2,477.6 470.3,476.6" fill="none" stroke="#cdb86c" stroke-width="0.4"/>
<polyline points="445.1,473.5 447.2,481.8 452.5,488.1 457.7,483.9 463.0,486.0 471.4,479.7" fill="none" stroke="#cdb86c" stroke-width="0.4"/>
<polyline points="452.5,488.1 454.6,496.5 460.9,502.8 463.0,504.9" fill="none" stroke="#cdb86c" stroke-width="0.4"/>
<polyline points="471.4,479.7 473.5,490.2 472.4,498.6 469.3,504.9" fill="none" stroke="#cdb86c" stroke-width="0.4"/>
<polygon points="435.3,438.6 436.5,437.1 438.4,437.4 439.1,439.1 437.8,440.6 435.9,440.3" fill="#c6eab5" stroke="#8fb08a" stroke-width="0.3"/>
<polyline points="353.1,255.9 353.1,255.9 354.3,248.5 358.0,244.8 358.0,236.2 360.5,228.8 359.3,221.4 356.8,211.5 354.3,201.6 354.3,191.7 358.0,183.1 365.4,179.4 367.9,174.4 365.9,164.6 369.1,156.2 367.9,148.8 374.1,143.8 374.1,135.2 377.8,129.0 379.0,121.6 385.2,116.7 386.4,109.3 395.1,108.0 398.8,99.4 402.5,94.4" fill="none" stroke="#333" stroke-width="0.8"/>
<polyline points="402.5,94.4 408.6,99.4 414.8,101.9 418.5,98.1 425.9,98.1 428.4,89.5 429.6,78.4 435.8,74.2 442.0,77.2 446.9,80.9 445.7,87.0 448.1,82.1 454.3,74.7" fill="none" stroke="#333" stroke-width="0.7"/>
<polyline points="402.5,94.4 408.6,100.6 413.6,105.6 418.5,109.3 422.2,115.4 423.5,121.6 427.2,129.0 428.4,136.4 430.9,145.1" fill="none" stroke="#333" stroke-width="0.7"/>
<polyline points="480.2,213.0 484.0,205.6 487.7,198.1 490.1,193.2 492.6,183.3 491.4,173.5 481.5,167.3 480.2,158.6 475.3,151.2 470.4,143.8 469.1,134.0 463.0,121.6 459.3,114.2 458.0,105.6 453.1,99.4 448.1,92.0 446.9,87.0" fill="none" stroke="#555" stroke-width="0.6"/>
<polyline points="183.3,305.5 181.0,307.8 178.7,309.0 177.0,310.7 174.7,311.8 173.9,313.6 174.7,315.9 176.4,317.6 179.3,318.7 181.6,317.6 183.3,316.4 184.7,318.7 185.6,321.6 187.3,322.8 189.0,323.3" fill="none" stroke="#222" stroke-width="0.9"/>
<polyline points="203.1,500.5 208.0,504.7 213.0,508.4 219.1,510.4 225.3,512.1 231.5,513.3 235.2,515.8 241.4,517.8 247.5,520.7 253.7,521.2 258.6,521.2" fill="none" stroke="#222" stroke-width="0.9"/>
<polyline points="119.1,582.0 120.9,574.6 127.0,568.4 125.8,563.5 129.5,559.8 128.3,554.8 125.8,549.9 127.0,543.7 133.2,543.7 135.7,537.5 136.9,531.4 138.1,525.2 143.1,521.5 146.8,517.8 144.3,512.8 140.6,508.6 134.4,509.1 127.0,507.9 125.8,506.7 122.1,503.7 117.7,503.7" fill="none" stroke="#222" stroke-width="0.9"/>
<polyline points="311.7,500.0 310.0,498.3 305.8,495.8 303.3,491.7 304.2,487.5 302.5,483.3 304.2,480.8 306.7,477.5 305.0,475.0 304.2,470.8 306.7,469.2" fill="none" stroke="#222" stroke-width="0.9"/>
<polyline points="326.7,326.4 329.4,327.0 333.5,327.7 336.8,327.0" fill="none" stroke="#222" stroke-width="0.8"/>
<polyline points="493.3,528.6 503.2,526.2 511.9,523.7 521.7,522.5 530.4,520.0 531.6,514.6 534.1,517.0 533.1,523.2 534.1,528.1 533.6,531.1" fill="none" stroke="#222" stroke-width="0.8"/>
<polyline points="531.6,514.6 536.5,510.9 544.0,507.7 550.1,505.9" fill="none" stroke="#222" stroke-width="0.8"/>
<polyline points="705.1,459.5 711.2,457.5 716.2,454.6 722.3,455.8 728.5,456.5 732.2,462.0 737.2,466.9 743.3,469.4 747.0,470.6 745.8,478.0 749.5,483.0 754.4,489.1 756.9,496.5 760.6,502.7 766.8,507.7 763.1,512.6 760.6,510.1 753.2,513.3 747.0,515.1 739.6,520.0 733.5,524.9 726.0,529.9 718.6,534.8 711.2,539.8 703.8,543.5 695.2,545.9 687.8,549.6 681.6,553.3 675.4,554.6 674.2,559.5 676.7,563.2 673.0,565.7 671.7,570.6 669.3,569.4 667.3,564.4" fill="none" stroke="#333" stroke-width="0.7"/>
<polyline points="328.0,327.4 331.0,328.1" fill="none" stroke="#444" stroke-width="0.7"/>
<polyline points="377.6,422.7 378.8,424.4" fill="none" stroke="#444" stroke-width="0.7"/>
<polyline points="314.1,440.9 314.1,435.1 316.5,428.9 320.2,420.2 314.1,416.5 299.3,414.1 298.3,413.1" fill="none" stroke="#444" stroke-width="0.7"/>
<polyline points="484.1,236.6 485.2,242.6 484.0,248.8 485.2,256.2 487.7,262.3 487.2,265.0" fill="none" stroke="#333" stroke-width="0.7"/>
<polyline points="460.7,265.3 461.7,266.0 467.9,263.6 474.1,266.0 481.5,268.0 486.9,266.5 491.4,271.0 493.8,278.4 497.5,284.6 498.8,288.3 495.1,293.2 490.1,296.9 489.2,297.4" fill="none" stroke="#333" stroke-width="0.7"/>
<polyline points="437.8,298.9 443.2,295.7 451.9,293.2 461.7,292.0 469.1,289.5 472.8,292.0 480.2,294.4 487.7,298.1 492.6,302.5 488.9,308.6 484.0,316.0 482.7,322.2 475.3,325.9 470.4,333.3 468.2,332.7" fill="none" stroke="#333" stroke-width="0.7"/>
<polyline points="456.2,324.0 455.6,318.5 448.1,316.0 441.4,312.7" fill="none" stroke="#333" stroke-width="0.7"/>
<polyline points="311.4,351.0 312.7,352.3 312.4,356.0 311.4,359.6 309.0,362.1 308.4,364.5 310.8,366.4 310.2,369.4 307.8,371.9 306.5,373.7 303.5,374.4 300.4,375.6 300.4,378.0 301.6,380.5 301.0,383.6 299.8,386.0 299.1,386.5" fill="none" stroke="#444" stroke-width="0.6"/>
<polyline points="264.8,383.6 267.4,382.5" fill="none" stroke="#222" stroke-width="0.9"/>
<polyline points="274.2,380.3 276.5,379.9 279.5,380.5 282.6,381.1 285.1,379.3 287.5,379.9 290.6,380.5 294.3,381.1 296.7,382.3 297.3,386.6 298.6,389.1 299.8,391.5 301.0,394.6 302.2,397.7 300.6,399.9" fill="none" stroke="#222" stroke-width="0.9"/>
<polyline points="294.4,409.6 293.0,409.3 290.0,407.5 287.5,405.6 286.3,402.0 283.8,401.3 280.8,402.0 280.2,398.9 277.1,397.1 274.6,394.6 271.6,392.8 269.7,389.7 266.7,388.5 265.4,386.0 264.8,383.6" fill="none" stroke="#222" stroke-width="0.9"/>
<polyline points="474.0,365.2 477.8,364.1 485.2,357.9 495.1,356.7 503.7,356.2 512.3,357.9 521.0,356.2 528.4,354.7 538.3,353.7 539.5,349.3 540.7,343.1 545.7,338.1 553.1,334.4 560.5,330.7 566.2,329.5 571.1,333.2 574.8,340.6 581.0,343.1 587.2,345.6 593.3,351.7 599.5,350.5 609.4,347.3 619.3,349.3 630.4,348.8 640.2,349.3 641.5,355.4 642.7,361.6 646.4,366.5 646.4,374.0 642.7,377.7 637.8,381.4 635.3,387.5 637.0,390.0 635.8,391.5" fill="none" stroke="#555" stroke-width="0.6"/>
<polyline points="677.4,437.1 684.1,435.3 694.0,433.6 703.8,431.1 711.2,429.9 718.6,430.4 726.0,428.6 731.0,425.4 738.4,424.4 743.3,426.9 749.5,429.9 755.7,431.9 758.1,434.8 760.1,438.5 755.7,441.0 749.5,441.7 744.6,443.5 742.1,447.2 737.2,449.6 732.2,453.3 728.5,456.5 722.3,455.8 716.2,454.6 711.2,457.5 705.8,459.3" fill="none" stroke="#555" stroke-width="0.6"/>
<polyline points="431.6,327.5 437.1,326.9 446.8,326.2 455.7,325.5 459.2,326.9 463.3,329.7 465.4,330.4 467.5,335.2 470.2,340.7 471.6,346.2 472.3,349.7 468.9,353.8 467.5,356.6 471.6,358.6 473.0,361.4 472.3,365.5 474.4,369.7 477.1,373.8 479.9,378.0 480.6,382.1 477.1,384.9 475.1,387.6 473.7,391.8 471.6,396.6 470.2,401.4 469.7,405.5" fill="none" stroke="#333" stroke-width="0.7"/>
<polyline points="388.9,387.0 388.8,386.9 388.1,382.1 386.7,376.6 385.4,371.1 384.0,365.5 383.3,360.0 381.2,355.9 379.8,350.4 380.5,346.2 380.0,342.9" fill="none" stroke="#333" stroke-width="0.7"/>
<polyline points="475.6,422.5 479.0,423.3 486.4,422.1 493.8,423.3 500.0,422.1 506.2,418.4 512.3,413.5 514.7,411.9" fill="none" stroke="#333" stroke-width="0.7"/>
<polyline points="542.2,450.9 546.9,452.1 553.1,449.6 556.8,450.9 557.2,453.0" fill="none" stroke="#333" stroke-width="0.7"/>
<polyline points="454.2,459.4 459.3,464.4 463.0,469.4 467.9,473.1 474.1,478.0 480.2,479.3 481.5,483.0 484.1,485.5" fill="none" stroke="#333" stroke-width="0.7"/>
<polyline points="476.2,513.5 475.3,510.1 470.4,506.4 465.4,502.7 461.7,506.4 459.6,509.9" fill="none" stroke="#333" stroke-width="0.7"/>
<polyline points="438.9,464.7 443.6,466.8 445.6,472.2 444.3,477.2 442.3,477.4" fill="none" stroke="#333" stroke-width="0.7"/>
<polyline points="296.1,403.8 297.3,401.3 299.2,400.7 301.0,402.6 302.2,406.3 302.2,409.9 299.8,411.8 296.7,411.2 296.1,409.9 295.5,406.9 296.1,403.8" fill="none" stroke="#222" stroke-width="0.8"/>
<polyline points="313.3,442.5 317.5,442.5 322.5,441.3 324.2,440.0 325.8,441.7 330.0,442.5 332.6,443.0" fill="none" stroke="#222" stroke-width="0.9"/>
<polyline points="342.7,458.7 341.7,460.0 340.0,462.5 338.3,460.0 335.8,460.8 333.3,461.7 330.8,462.5 329.2,465.8 327.5,469.2 325.8,466.7 324.2,463.3 320.8,464.2 317.5,465.8 313.3,467.5 309.2,468.7 306.7,469.2 305.0,465.8 304.2,461.7 301.7,460.8 298.3,462.5 295.8,463.7 297.5,460.0 300.0,455.8 303.3,451.7 306.7,447.5 310.0,445.0 313.3,442.5" fill="none" stroke="#222" stroke-width="0.9"/>
<polyline points="334.2,443.3 335.8,445.0 339.2,445.8 343.3,444.2 347.5,445.0 352.5,444.7 356.7,443.3 360.8,441.7 365.0,440.8 370.0,440.8 371.7,442.5 370.8,437.5 369.2,434.2 371.7,431.7 375.0,430.0 378.3,428.3 380.3,425.0" fill="none" stroke="#333" stroke-width="0.8"/>
<polyline points="375.2,458.0 372.5,456.7 368.3,455.0 363.3,452.5 360.8,450.8 356.7,451.7 351.7,452.5 347.5,455.0 343.7,457.5 343.3,454.2 340.8,453.3 336.7,452.5 334.2,450.0 335.0,446.7 334.2,443.3" fill="none" stroke="#333" stroke-width="0.8"/>
<polyline points="360.5,399.6 362.4,402.7 364.2,406.4 365.4,410.0 368.5,413.7 372.2,416.8 375.8,419.2 379.5,422.3 382.6,424.8 385.7,425.4 388.1,423.5 390.6,421.1 391.8,419.2 395.5,419.2 399.1,419.9 404.0,421.1 407.7,421.1 409.8,421.4" fill="none" stroke="#333" stroke-width="0.8"/>
<polyline points="428.6,406.1 427.3,405.1 424.9,402.7 421.8,400.8 418.8,399.6 416.9,397.2 415.1,397.8 412.6,395.3 410.2,394.7 408.3,397.2 406.5,398.4 404.0,395.9 402.8,392.9 399.8,391.6 396.7,390.4 393.0,389.2 391.2,387.4 389.3,388.6 387.1,389.8 384.4,388.0 383.2,389.2 379.5,391.6 375.8,394.1 372.2,395.9 367.9,398.4 364.2,400.2 361.7,400.8 360.5,399.6" fill="none" stroke="#333" stroke-width="0.8"/>
<polyline points="376.7,458.7 380.8,459.7 385.0,459.2 390.0,459.2 393.3,457.5 398.3,455.8 403.3,454.2 405.3,453.2" fill="none" stroke="#333" stroke-width="0.8"/>
<polyline points="406.5,456.0 405.0,457.5 403.3,460.8 400.0,463.3 399.2,467.5 398.3,471.7 395.0,474.2 390.0,475.0 389.3,474.8" fill="none" stroke="#333" stroke-width="0.8"/>
<polyline points="385.1,474.6 383.5,475.0" fill="none" stroke="#333" stroke-width="0.8"/>
<polyline points="380.2,472.1 379.2,470.0 380.0,465.8 377.5,462.5 376.7,458.7" fill="none" stroke="#333" stroke-width="0.8"/>
<polyline points="469.3,419.2 474.1,422.1 470.4,428.3 467.9,435.7 465.4,443.1 463.0,450.0 458.0,452.1 453.1,458.3 445.7,460.7 438.3,463.2 432.1,465.7 423.5,465.7 414.8,462.0 407.4,454.6 406.7,452.3 407.9,448.6 410.4,441.2 412.8,436.3 413.8,434.9" fill="none" stroke="#333" stroke-width="0.7"/>
<polyline points="485.2,486.7 488.9,487.9 498.8,487.2 508.6,486.2 516.0,484.2 521.0,480.5 528.4,477.3 537.0,476.3 544.4,477.3 549.8,477.3" fill="none" stroke="#333" stroke-width="0.7"/>
<polyline points="549.7,506.5 544.4,506.9 538.3,510.1 534.6,515.1 530.7,518.1" fill="none" stroke="#333" stroke-width="0.7"/>
<polyline points="528.1,520.0 526.4,520.3" fill="none" stroke="#333" stroke-width="0.7"/>
<polyline points="511.9,523.0 506.2,524.9 498.8,527.4 494.9,528.3" fill="none" stroke="#333" stroke-width="0.7"/>
<polyline points="484.3,513.5 485.2,510.1 486.4,505.2 488.9,500.2 485.2,496.5 482.7,491.6 485.2,486.7" fill="none" stroke="#333" stroke-width="0.7"/>
<polyline points="447.0,502.3 451.9,505.2 458.0,508.9 458.0,511.0" fill="none" stroke="#333" stroke-width="0.6"/>
<polyline points="449.4,522.5 450.6,517.5 454.3,515.1 458.0,512.6 460.5,518.8 462.8,522.4" fill="none" stroke="#333" stroke-width="0.6"/>
<polyline points="467.0,555.3 465.8,558.0" fill="none" stroke="#333" stroke-width="0.6"/>
<polyline points="463.7,523.7 466.7,521.2 471.6,517.5 476.5,515.1 484.0,515.1 490.1,518.8 492.6,523.7 493.3,528.6 488.9,531.1 484.0,533.6 478.0,537.1" fill="none" stroke="#333" stroke-width="0.7"/>
<polyline points="469.9,539.2 466.2,534.8 464.7,529.9 463.7,523.7" fill="none" stroke="#333" stroke-width="0.7"/>
<polyline points="429.6,407.3 433.3,406.0 439.5,404.8 443.2,409.8 449.4,406.0 456.8,404.1 464.2,406.0 470.4,407.3 469.1,413.5 467.9,418.4 461.7,418.4 455.6,417.2 449.4,419.6 444.4,423.3 439.5,427.0 433.3,429.5 430.9,434.4 424.7,435.7 418.5,434.0 415.1,434.0 414.3,430.2 413.3,427.8 412.6,424.8 411.4,421.6 413.8,419.9 416.8,417.9 420.0,416.7 422.5,414.9 424.9,412.0 427.4,408.8 429.6,407.3" fill="none" stroke="#333" stroke-width="0.7"/>
<polyline points="516.0,411.0 521.0,408.0 528.4,408.0 535.8,409.8 540.7,413.5 544.4,418.4 549.4,424.6 555.1,430.7 554.3,433.2 548.1,434.4 545.7,440.6 543.2,448.0 540.7,450.0 538.8,443.1 537.0,435.7 533.3,429.5 528.4,423.3 523.5,417.2 518.5,413.5 516.0,411.0" fill="none" stroke="#555" stroke-width="0.6"/>
<polyline points="403.7,479.3 412.3,477.3 422.2,476.8 432.1,477.3 440.7,478.0 444.4,483.0 445.7,489.1 448.1,494.1 444.4,499.0 445.7,501.5 442.0,505.2 439.5,510.1 438.3,516.0" fill="none" stroke="#555" stroke-width="0.6"/>
<polyline points="438.0,516.2 434.6,514.3 428.4,508.9 422.2,502.7 416.0,496.5 411.1,490.4 407.4,485.4 403.7,479.3" fill="none" stroke="#555" stroke-width="0.6"/>
<polygon points="541.0,62.8 763.0,62.8 763.0,304.7 541.0,304.7" fill="#ffffff"/>
<polyline points="617.5,86.0 617.5,231.5" fill="none" stroke="#9a9a9a" stroke-width="0.6"/>
<polyline points="549.8,147.0 611.5,147.0" fill="none" stroke="#c4c4c4" stroke-width="1.0"/>
<polyline points="549.8,238.4 611.5,238.4" fill="none" stroke="#b0b0b0" stroke-width="0.6"/>
<polyline points="623.8,238.4 755.7,238.4" fill="none" stroke="#b0b0b0" stroke-width="0.6"/>
<polyline points="601.6,257.5 601.6,294.7" fill="none" stroke="#9a9a9a" stroke-width="0.6"/>
<polyline points="647.8,257.5 647.8,294.7" fill="none" stroke="#9a9a9a" stroke-width="0.6"/>
<polyline points="703.5,257.5 703.5,294.7" fill="none" stroke="#9a9a9a" stroke-width="0.6"/>
<polyline points="686.5,79.6 696.4,116.7 680.4,146.3 697.7,183.3 697.7,210.0" fill="none" stroke="#dcdcdc" stroke-width="0.6"/>
<polyline points="696.4,116.7 755.7,126.5" fill="none" stroke="#dcdcdc" stroke-width="0.6"/>
<polyline points="680.4,146.3 622.3,138.4" fill="none" stroke="#dcdcdc" stroke-width="0.6"/>
<polyline points="697.7,183.3 755.7,189.5" fill="none" stroke="#dcdcdc" stroke-width="0.6"/>
<polygon points="601.0,132.7 608.4,127.8 612.1,120.4 612.1,132.7" fill="#e4e4e4"/>
<polygon points="623.6,87.0 644.6,87.0 644.6,100.1 623.6,100.1" fill="#ffffff" stroke="#c0c0c0" stroke-width="0.5"/>
<polygon points="625.1,163.7 646.0,168.6 658.4,172.3 673.2,181.0 680.6,190.9 684.3,188.4 688.0,197.0 690.5,206.9 693.0,219.3 693.0,232.8 625.1,232.8" fill="url(#ggy)"/>
<polygon points="551.5,257.5 568.8,257.5 568.8,275.3 551.5,275.3" fill="#ffffff" stroke="#c0c0c0" stroke-width="0.5"/>
<polygon points="575.2,257.5 593.5,257.5 593.5,276.8 575.2,276.8" fill="#ffffff" stroke="#c0c0c0" stroke-width="0.5"/>
<polygon points="551.6,96.4 554.1,95.7 555.3,98.1 553.6,101.9 552.1,99.4" fill="#6bcdbc" stroke="#6a9a95" stroke-width="0.25"/>
<polygon points="559.5,106.3 562.0,105.3 563.5,107.3 561.0,108.8" fill="#6bcdbc" stroke="#6a9a95" stroke-width="0.25"/>
<polygon points="565.9,103.8 570.1,101.9 576.3,100.1 573.8,103.8 570.9,108.0 567.7,107.3" fill="#6bcdbc" stroke="#6a9a95" stroke-width="0.25"/>
<polygon points="580.0,108.0 582.5,106.3 585.7,107.3 586.2,110.5 583.2,112.5 580.5,111.2" fill="#6bcdbc" stroke="#6a9a95" stroke-width="0.25"/>
<polygon points="598.0,107.3 601.5,104.8 603.5,99.4 606.4,94.4 608.4,92.0 610.4,89.5 610.9,93.2 608.4,96.9 606.4,101.9 603.5,106.3 599.8,108.8" fill="#6bcdbc" stroke="#6a9a95" stroke-width="0.25"/>
<polygon points="549.1,111.7 552.1,110.7 552.8,112.2 550.4,113.7" fill="#6bcdbc" stroke="#6a9a95" stroke-width="0.25"/>
<polygon points="609.1,88.3 610.9,87.0 611.4,89.0 609.9,90.0" fill="#6bcdbc" stroke="#6a9a95" stroke-width="0.25"/>
<polygon points="561.6,185.9 565.8,184.7 570.7,185.9 574.4,188.4 576.9,192.1 573.2,193.3 568.3,192.1 563.3,190.9" fill="#6bcdbc" stroke="#6a9a95" stroke-width="0.3"/>
<polygon points="574.4,197.0 578.1,194.6 583.1,197.0 589.3,199.5 595.4,203.2 599.1,208.1 597.9,211.9 593.0,213.8 586.8,213.1 580.6,210.6 576.9,206.9 574.9,202.0" fill="#6bcdbc" stroke="#6a9a95" stroke-width="0.3"/>
<polygon points="627.3,94.0 631.0,92.5 634.7,90.7 637.7,89.5 639.1,91.5 636.7,94.4 639.1,96.9 634.7,97.4 631.7,95.7 628.5,95.7" fill="#c6eab5" stroke="#8aa890" stroke-width="0.25"/>
<polygon points="633.5,109.3 635.9,105.6 640.9,104.8 644.6,108.0 646.5,114.2 647.0,121.6 644.6,126.5 639.6,127.8 635.9,124.1 634.2,116.7" fill="#c6eab5" stroke="#8aa890" stroke-width="0.3"/>
<polygon points="647.0,103.1 648.3,98.1 652.0,96.9 654.9,100.6 655.7,105.6 660.6,107.3 664.8,110.5 659.4,112.2 654.4,113.0 649.5,111.7 647.0,108.0" fill="#c6eab5" stroke="#8aa890" stroke-width="0.3"/>
<polygon points="658.1,127.8 660.6,124.6 664.3,125.3 665.6,129.0 663.1,132.2 659.4,131.5" fill="#c6eab5" stroke="#8aa890" stroke-width="0.3"/>
<polygon points="670.5,108.0 676.2,104.8 676.7,106.3 671.7,109.3" fill="#c6eab5" stroke="#8aa890" stroke-width="0.25"/>
<polygon points="641.6,132.7 644.6,131.5 645.1,133.5 642.1,134.4" fill="#c6eab5" stroke="#8aa890" stroke-width="0.25"/>
<polygon points="714.9,92.0 717.4,88.3 722.3,88.3 727.3,90.7 731.0,94.4 733.0,98.1 734.7,103.1 737.2,108.0 738.4,113.0 734.7,114.7 731.0,111.7 726.0,109.3 722.3,108.0 723.6,103.1 719.9,99.4 716.2,95.7" fill="#c6eab5" stroke="#8aa890" stroke-width="0.3"/>
<polygon points="716.7,157.4 719.9,151.2 726.0,148.8 733.5,149.3 740.9,153.7 745.8,161.1 744.6,168.5 738.4,173.5 731.0,174.0 723.6,171.0 718.6,164.8" fill="#c6eab5" stroke="#8aa890" stroke-width="0.3"/>
<polygon points="636.5,182.1 639.8,174.0 645.9,168.7 652.0,167.9 660.1,172.0 668.2,178.0 675.5,184.1 681.2,191.5 679.6,198.4 675.5,206.5 670.2,212.6 666.2,217.5 660.9,220.7 654.0,219.9 647.9,220.7 641.8,222.8 635.7,222.8 638.9,214.6 641.4,206.5 639.8,196.3 637.3,188.2" fill="#c6eab5" stroke="#333" stroke-width="0.7"/>
<polygon points="719.8,209.9 721.8,206.9 724.8,203.9 726.8,206.9 729.8,208.9 733.8,209.9 735.8,212.9 733.8,215.9 730.8,217.9 731.8,221.9 729.8,224.9 730.8,228.9 727.8,232.3 723.8,231.5 722.2,227.9 724.8,224.9 723.8,220.9 721.8,216.9 720.8,212.9" fill="#fee998" stroke="#c9b56a" stroke-width="0.3"/>
<polygon points="737.8,214.9 739.4,214.3 740.1,216.3 738.6,217.1" fill="#fee998" stroke="#c9b56a" stroke-width="0.25"/>
<polygon points="708.7,269.3 710.9,267.0 713.9,266.3 716.1,267.0 719.1,264.8 721.3,261.1 722.8,258.9 724.3,261.9 725.7,264.1 728.0,262.6 730.2,261.1 732.4,260.4 734.6,261.1 733.9,264.1 732.4,266.3 730.2,268.5 728.0,270.0 726.5,272.2 727.2,275.2 729.4,277.4 732.4,279.6 733.9,282.6 733.6,285.6 731.7,284.8 729.4,283.3 728.0,281.1 726.5,283.3 725.7,287.0 723.5,290.7 722.0,293.7 720.6,292.2 719.1,289.3 716.9,287.0 717.6,283.3 715.4,281.1 716.1,278.1 713.9,275.9 711.7,274.4 710.2,272.2" fill="#a6a6a6" stroke="#8a8a8a" stroke-width="0.25"/>
<polygon points="735.7,272.2 738.3,270.4 739.8,271.0 736.9,273.4" fill="#a6a6a6" stroke="#8a8a8a" stroke-width="0.25"/>
<polygon points="739.8,259.6 741.3,258.1 742.0,259.2 740.6,260.4" fill="#a6a6a6" stroke="#8a8a8a" stroke-width="0.25"/>
<polygon points="653.1,258.1 697.6,258.1 697.6,295.2 653.1,295.2" fill="#40b4c4"/>
<polygon points="561.6,259.5 562.8,259.0 563.1,261.0 561.9,261.2" fill="#c6eab5" stroke="#8aa890" stroke-width="0.25"/>
<polygon points="557.9,268.1 560.1,266.7 561.6,268.6 561.4,271.6 559.1,272.8 557.7,271.1" fill="#c6eab5" stroke="#8aa890" stroke-width="0.25"/>
<polygon points="577.7,259.5 580.6,258.8 585.6,259.3 586.8,260.7 584.3,262.2 580.1,261.7" fill="#c6eab5" stroke="#8aa890" stroke-width="0.25"/>
<polygon points="586.3,273.6 588.3,273.1 588.8,274.6 586.8,275.1" fill="#c6eab5" stroke="#8aa890" stroke-width="0.25"/>
<polygon points="549.3,287.2 552.2,286.7 553.7,288.9 550.7,289.9" fill="#c6eab5" stroke="#8aa890" stroke-width="0.25"/>
<polygon points="553.5,288.9 557.2,289.4 560.9,290.9 560.1,292.6 555.9,291.9" fill="#c6eab5" stroke="#8aa890" stroke-width="0.25"/>
<polygon points="557.2,285.4 560.9,286.4 565.8,288.9 565.1,289.9 560.9,288.4 557.2,286.7" fill="#c6eab5" stroke="#8aa890" stroke-width="0.25"/>
<polygon points="561.1,278.8 562.6,278.3 562.8,280.0 561.6,280.2" fill="#c6eab5" stroke="#8aa890" stroke-width="0.25"/>
<polygon points="572.0,284.7 575.7,284.2 577.4,285.9 575.7,287.7 572.5,286.9" fill="#c6eab5" stroke="#8aa890" stroke-width="0.25"/>
<polygon points="611.5,269.9 615.2,268.1 620.1,269.9 625.1,272.3 630.0,273.6 631.2,275.6 627.5,277.3 622.6,278.0 617.7,276.5 614.0,273.6" fill="#c6eab5" stroke="#8aa890" stroke-width="0.3"/>
<polygon points="639.9,261.2 642.3,258.8 644.1,260.0 641.6,263.2" fill="#c6eab5" stroke="#8aa890" stroke-width="0.25"/>
<polygon points="634.9,279.8 636.7,283.5 637.7,286.4 636.2,286.4" fill="#c6eab5" stroke="#8aa890" stroke-width="0.25"/>
<polyline points="625.1,216.8 628.8,218.0 631.2,220.5 634.9,219.3" fill="none" stroke="#555" stroke-width="0.5"/>
<polygon points="623.8,162.5 638.6,162.5 638.6,234.1 623.8,234.1" fill="url(#ggyl)"/>
<polygon points="623.8,224.7 694.2,224.7 694.2,234.1 623.8,234.1" fill="url(#ggyb)"/>
<polyline points="719.1,264.8 720.6,268.5 723.5,270.7 725.7,269.3" fill="none" stroke="#fff" stroke-width="0.5"/>
<polyline points="713.9,275.9 717.6,275.2 719.8,272.2" fill="none" stroke="#fff" stroke-width="0.5"/>
<polyline points="717.6,283.3 720.6,281.9 722.0,278.1" fill="none" stroke="#fff" stroke-width="0.5"/>
<polygon points="682.8,258.1 697.6,258.1 697.6,287.8 694.6,286.3 690.9,285.6 688.0,284.8 689.1,281.1 688.7,277.4 687.2,273.7 685.3,270.0 685.0,266.3 683.2,263.3 683.8,260.4" fill="#6bcdbc"/>
<polyline points="682.8,258.1 683.8,260.4 683.2,263.3 685.0,266.3 685.3,270.0 687.2,273.7 688.7,277.4 689.1,281.1 688.0,284.8 685.7,286.3 683.2,285.6 680.6,284.1 678.3,285.6 676.4,285.6 677.3,282.6 679.4,280.4 678.8,276.7 677.9,272.2 678.3,267.8 679.8,264.1 681.3,261.1 682.8,258.1" fill="none" stroke="#1a3a4a" stroke-width="0.7"/>
<polyline points="688.0,284.8 690.9,285.6 694.6,286.3 697.6,287.8" fill="none" stroke="#1a3a4a" stroke-width="0.6"/>
<polygon points="653.0,258.0 662.8,258.0 662.8,295.3 653.0,295.3" fill="url(#gll)"/>
<polygon points="688.0,258.0 697.7,258.0 697.7,295.3 688.0,295.3" fill="url(#glr)"/>
<rect x="560" y="606" width="215" height="50" fill="url(#gbot)"/>
</g>
<g font-family="Liberation Sans, sans-serif">
<text x="49.9" y="22.2" font-size="23.7" textLength="46.4" lengthAdjust="spacingAndGlyphs" font-weight="bold" fill="#404040">Life</text>
<text x="101.9" y="22.2" font-size="23.7" textLength="121.3" lengthAdjust="spacingAndGlyphs" font-weight="bold" fill="#404040">expectancy</text>
<text x="230.9" y="22.2" font-size="23.7" textLength="22.7" lengthAdjust="spacingAndGlyphs" font-weight="bold" fill="#404040">at</text>
<text x="261.5" y="22.2" font-size="23.7" textLength="52.7" lengthAdjust="spacingAndGlyphs" font-weight="bold" fill="#404040">birth</text>
<text x="322.2" y="22.2" font-size="23.7" textLength="29.1" lengthAdjust="spacingAndGlyphs" font-weight="bold" fill="#404040">for</text>
<text x="360.7" y="22.2" font-size="23.7" textLength="69.7" lengthAdjust="spacingAndGlyphs" font-weight="bold" fill="#404040">males,</text>
<text x="437.8" y="22.2" font-size="23.7" textLength="54.2" lengthAdjust="spacingAndGlyphs" font-weight="bold" fill="#404040">2022</text>
<text x="49.9" y="46.3" font-size="18" textLength="54.0" lengthAdjust="spacingAndGlyphs" fill="#4a4a4a">(years,</text>
<text x="111.0" y="46.3" font-size="18" textLength="19.9" lengthAdjust="spacingAndGlyphs" fill="#4a4a4a">by</text>
<text x="138.0" y="46.3" font-size="18" textLength="47.5" lengthAdjust="spacingAndGlyphs" fill="#4a4a4a">NUTS</text>
<text x="192.6" y="46.3" font-size="18" textLength="9.9" lengthAdjust="spacingAndGlyphs" fill="#4a4a4a">2</text>
<text x="209.6" y="46.3" font-size="18" textLength="71.7" lengthAdjust="spacingAndGlyphs" fill="#4a4a4a">regions)</text>
<text x="50.1" y="163.7" font-size="12" textLength="53" lengthAdjust="spacingAndGlyphs" fill="#333">EU = 77.9</text>
<rect x="50.3" y="170.2" width="23.8" height="12.4" fill="#1c2a6d" stroke="#141c4a" stroke-width="0.8"/>
<text x="79" y="179.6" font-size="10.3" textLength="29.5" lengthAdjust="spacingAndGlyphs" fill="#333">≥ 85.0</text>
<rect x="50.3" y="187.5" width="23.8" height="12.4" fill="#14509b" stroke="#0e3a72" stroke-width="0.8"/>
<text x="79" y="196.9" font-size="10.3" textLength="61.0" lengthAdjust="spacingAndGlyphs" fill="#333">83.5 – &lt; 85.0</text>
<rect x="50.3" y="204.8" width="23.8" height="12.4" fill="#40b4c4" stroke="#3a8c98" stroke-width="0.8"/>
<text x="79" y="214.2" font-size="10.3" textLength="61.0" lengthAdjust="spacingAndGlyphs" fill="#333">80.5 – &lt; 83.5</text>
<rect x="50.3" y="222.1" width="23.8" height="12.4" fill="#6bcdbc" stroke="#5a9c90" stroke-width="0.8"/>
<text x="79" y="231.5" font-size="10.3" textLength="61.0" lengthAdjust="spacingAndGlyphs" fill="#333">78.0 – &lt; 80.5</text>
<rect x="50.3" y="239.4" width="23.8" height="12.4" fill="#c6eab5" stroke="#93ab88" stroke-width="0.8"/>
<text x="79" y="248.8" font-size="10.3" textLength="61.0" lengthAdjust="spacingAndGlyphs" fill="#333">73.0 – &lt; 78.0</text>
<rect x="50.3" y="256.7" width="23.8" height="12.4" fill="#fee998" stroke="#b8aa78" stroke-width="0.8"/>
<text x="79" y="266.1" font-size="10.3" textLength="29.5" lengthAdjust="spacingAndGlyphs" fill="#333">&lt; 73.0</text>
<rect x="50.3" y="274.0" width="23.8" height="12.4" fill="#b4b4b4" stroke="#8c8c8c" stroke-width="0.8"/>
<text x="79" y="283.4" font-size="10.3" textLength="88.2" lengthAdjust="spacingAndGlyphs" fill="#333">Data not available</text>
<text x="52.3" y="642.4" font-size="18.5" font-weight="bold" fill="#6d6f7d" textLength="74.1" lengthAdjust="spacingAndGlyphs">eurostat</text><rect x="128.9" y="630.6" width="18.8" height="12.3" fill="#0b3aa0"/><circle cx="142.20" cy="636.75" r="0.55" fill="#ffd617"/><circle cx="141.68" cy="638.70" r="0.55" fill="#ffd617"/><circle cx="140.25" cy="640.13" r="0.55" fill="#ffd617"/><circle cx="138.30" cy="640.65" r="0.55" fill="#ffd617"/><circle cx="136.35" cy="640.13" r="0.55" fill="#ffd617"/><circle cx="134.92" cy="638.70" r="0.55" fill="#ffd617"/><circle cx="134.40" cy="636.75" r="0.55" fill="#ffd617"/><circle cx="134.92" cy="634.80" r="0.55" fill="#ffd617"/><circle cx="136.35" cy="633.37" r="0.55" fill="#ffd617"/><circle cx="138.30" cy="632.85" r="0.55" fill="#ffd617"/><circle cx="140.25" cy="633.37" r="0.55" fill="#ffd617"/><circle cx="141.68" cy="634.80" r="0.55" fill="#ffd617"/>
<!-- ribbon -->
<polygon points="771,592 767.5,592.1 737.4,629.6 723.1,630.1 712,619.5 691,644.7 771,652" fill="#fff"/>
<polygon points="705.1,611.4 718.6,611.4 691,644.7 676.7,644.7" fill="url(#rby)"/>
<polygon points="711.7,618.8 718.6,611.4 737.4,629.6 723.1,630.1" fill="url(#rbg)"/>
<polygon points="753.7,592.1 767.5,592.1 737.4,629.6 729.3,620.7" fill="url(#rbb)"/>
<!-- inset labels -->
<g font-size="6.7" fill="#26262e" stroke="#26262e" stroke-width="0.28">
<text x="549.9" y="79.6" lengthAdjust="spacingAndGlyphs" textLength="38.8">Canarias (ES)</text>
<text x="623.6" y="78.9" lengthAdjust="spacingAndGlyphs" textLength="51.1">Guadeloupe (FR)</text>
<text x="701.4" y="79.6" lengthAdjust="spacingAndGlyphs" textLength="46.9">Martinique (FR)</text>
<text x="701.4" y="139.6" lengthAdjust="spacingAndGlyphs" textLength="39">Réunion (FR)</text>
<text x="623.6" y="156.9" lengthAdjust="spacingAndGlyphs" textLength="37">Guyane (FR)</text>
<text x="549.9" y="168.5" lengthAdjust="spacingAndGlyphs" textLength="17.3">Malta</text>
<text x="701.4" y="198.9" lengthAdjust="spacingAndGlyphs" textLength="39">Mayotte (FR)</text>
<text x="549.8" y="252.6" lengthAdjust="spacingAndGlyphs" textLength="34.6">Açores (PT)</text>
<text x="603.6" y="252.6" lengthAdjust="spacingAndGlyphs" textLength="38">Madeira (PT)</text>
<text x="652.7" y="252.6" lengthAdjust="spacingAndGlyphs" textLength="40.2">Liechtenstein</text>
<text x="704" y="252.6" lengthAdjust="spacingAndGlyphs" textLength="42.1">Svalbard (NO)</text>
</g>
<rect x="552.8" y="121.1" width="14.9" height="4.9" fill="#fff" stroke="#111" stroke-width="1.0"/>
<line x1="552.8" y1="123.5" x2="567.7" y2="123.5" stroke="#111" stroke-width="0.9"/>
<text x="552.3" y="132.7" font-size="5.6" fill="#666">0</text>
<text x="562.2" y="132.7" font-size="5.6" fill="#666">100</text>
<rect x="552.7" y="214.8" width="11.9" height="5.0" fill="#fff" stroke="#111" stroke-width="1.0"/>
<line x1="552.7" y1="217.3" x2="564.6" y2="217.3" stroke="#111" stroke-width="0.9"/>
<text x="551.7" y="226.7" font-size="5.6" fill="#666">0</text>
<text x="560.9" y="226.7" font-size="5.6" fill="#666">10</text>
<rect x="671.2" y="121.1" width="10.9" height="4.9" fill="#fff" stroke="#111" stroke-width="1.0"/>
<line x1="671.2" y1="123.5" x2="682.1" y2="123.5" stroke="#111" stroke-width="0.9"/>
<text x="670.5" y="132.7" font-size="5.6" fill="#666">0</text>
<text x="678.6" y="132.7" font-size="5.6" fill="#666">20</text>
<rect x="703.3" y="102.6" width="11.6" height="5.4" fill="#fff" stroke="#111" stroke-width="1.0"/>
<line x1="703.3" y1="105.3" x2="714.9" y2="105.3" stroke="#111" stroke-width="0.9"/>
<text x="702.6" y="114.7" font-size="5.6" fill="#666">0</text>
<text x="710.7" y="114.7" font-size="5.6" fill="#666">20</text>
<rect x="704.3" y="166.5" width="10.6" height="5.0" fill="#fff" stroke="#111" stroke-width="1.0"/>
<line x1="704.3" y1="169.0" x2="714.9" y2="169.0" stroke="#111" stroke-width="0.9"/>
<text x="703.1" y="178.4" font-size="5.6" fill="#666">0</text>
<text x="710.7" y="178.4" font-size="5.6" fill="#666">20</text>
<rect x="675.2" y="216.3" width="7.9" height="4.9" fill="#fff" stroke="#111" stroke-width="1.0"/>
<line x1="675.2" y1="218.8" x2="683.1" y2="218.8" stroke="#111" stroke-width="0.9"/>
<text x="673.7" y="227.2" font-size="5.6" fill="#666">0</text>
<text x="678.1" y="227.2" font-size="5.6" fill="#666">50</text>
<rect x="704.2" y="217.3" width="8.6" height="4.6" fill="#fff" stroke="#111" stroke-width="1.0"/>
<line x1="704.2" y1="219.6" x2="712.8" y2="219.6" stroke="#111" stroke-width="0.9"/>
<text x="703.4" y="228.9" font-size="5.6" fill="#666">0</text>
<text x="709.4" y="228.9" font-size="5.6" fill="#666">10</text>
<rect x="583.1" y="281.0" width="10.4" height="4.9" fill="#fff" stroke="#111" stroke-width="1.0"/>
<line x1="583.1" y1="283.4" x2="593.5" y2="283.4" stroke="#111" stroke-width="0.9"/>
<text x="581.9" y="292.1" font-size="5.6" fill="#666">0</text>
<text x="590.0" y="292.1" font-size="5.6" fill="#666">50</text>
<rect x="607.3" y="281.0" width="7.9" height="4.9" fill="#fff" stroke="#111" stroke-width="1.0"/>
<line x1="607.3" y1="283.4" x2="615.2" y2="283.4" stroke="#111" stroke-width="0.9"/>
<text x="606.0" y="292.1" font-size="5.6" fill="#666">0</text>
<text x="611.0" y="292.1" font-size="5.6" fill="#666">20</text>
<rect x="660.9" y="281.1" width="11.0" height="4.6" fill="none" stroke="#111" stroke-width="1.0"/>
<line x1="660.9" y1="283.4" x2="671.9" y2="283.4" stroke="#111" stroke-width="0.9"/>
<text x="660.0" y="292.7" font-size="5.6" fill="#1d6b7a">0</text>
<text x="668.9" y="292.7" font-size="5.6" fill="#1d6b7a">10</text>
<rect x="737.2" y="281.1" width="7.9" height="4.6" fill="#fff" stroke="#111" stroke-width="1.0"/>
<line x1="737.2" y1="283.4" x2="745.1" y2="283.4" stroke="#111" stroke-width="0.9"/>
<text x="735.8" y="292.7" font-size="5.6" fill="#666">0</text>
<text x="739.4" y="292.7" font-size="5.6" fill="#666">100</text>
</g>
</svg>
</body></html>
